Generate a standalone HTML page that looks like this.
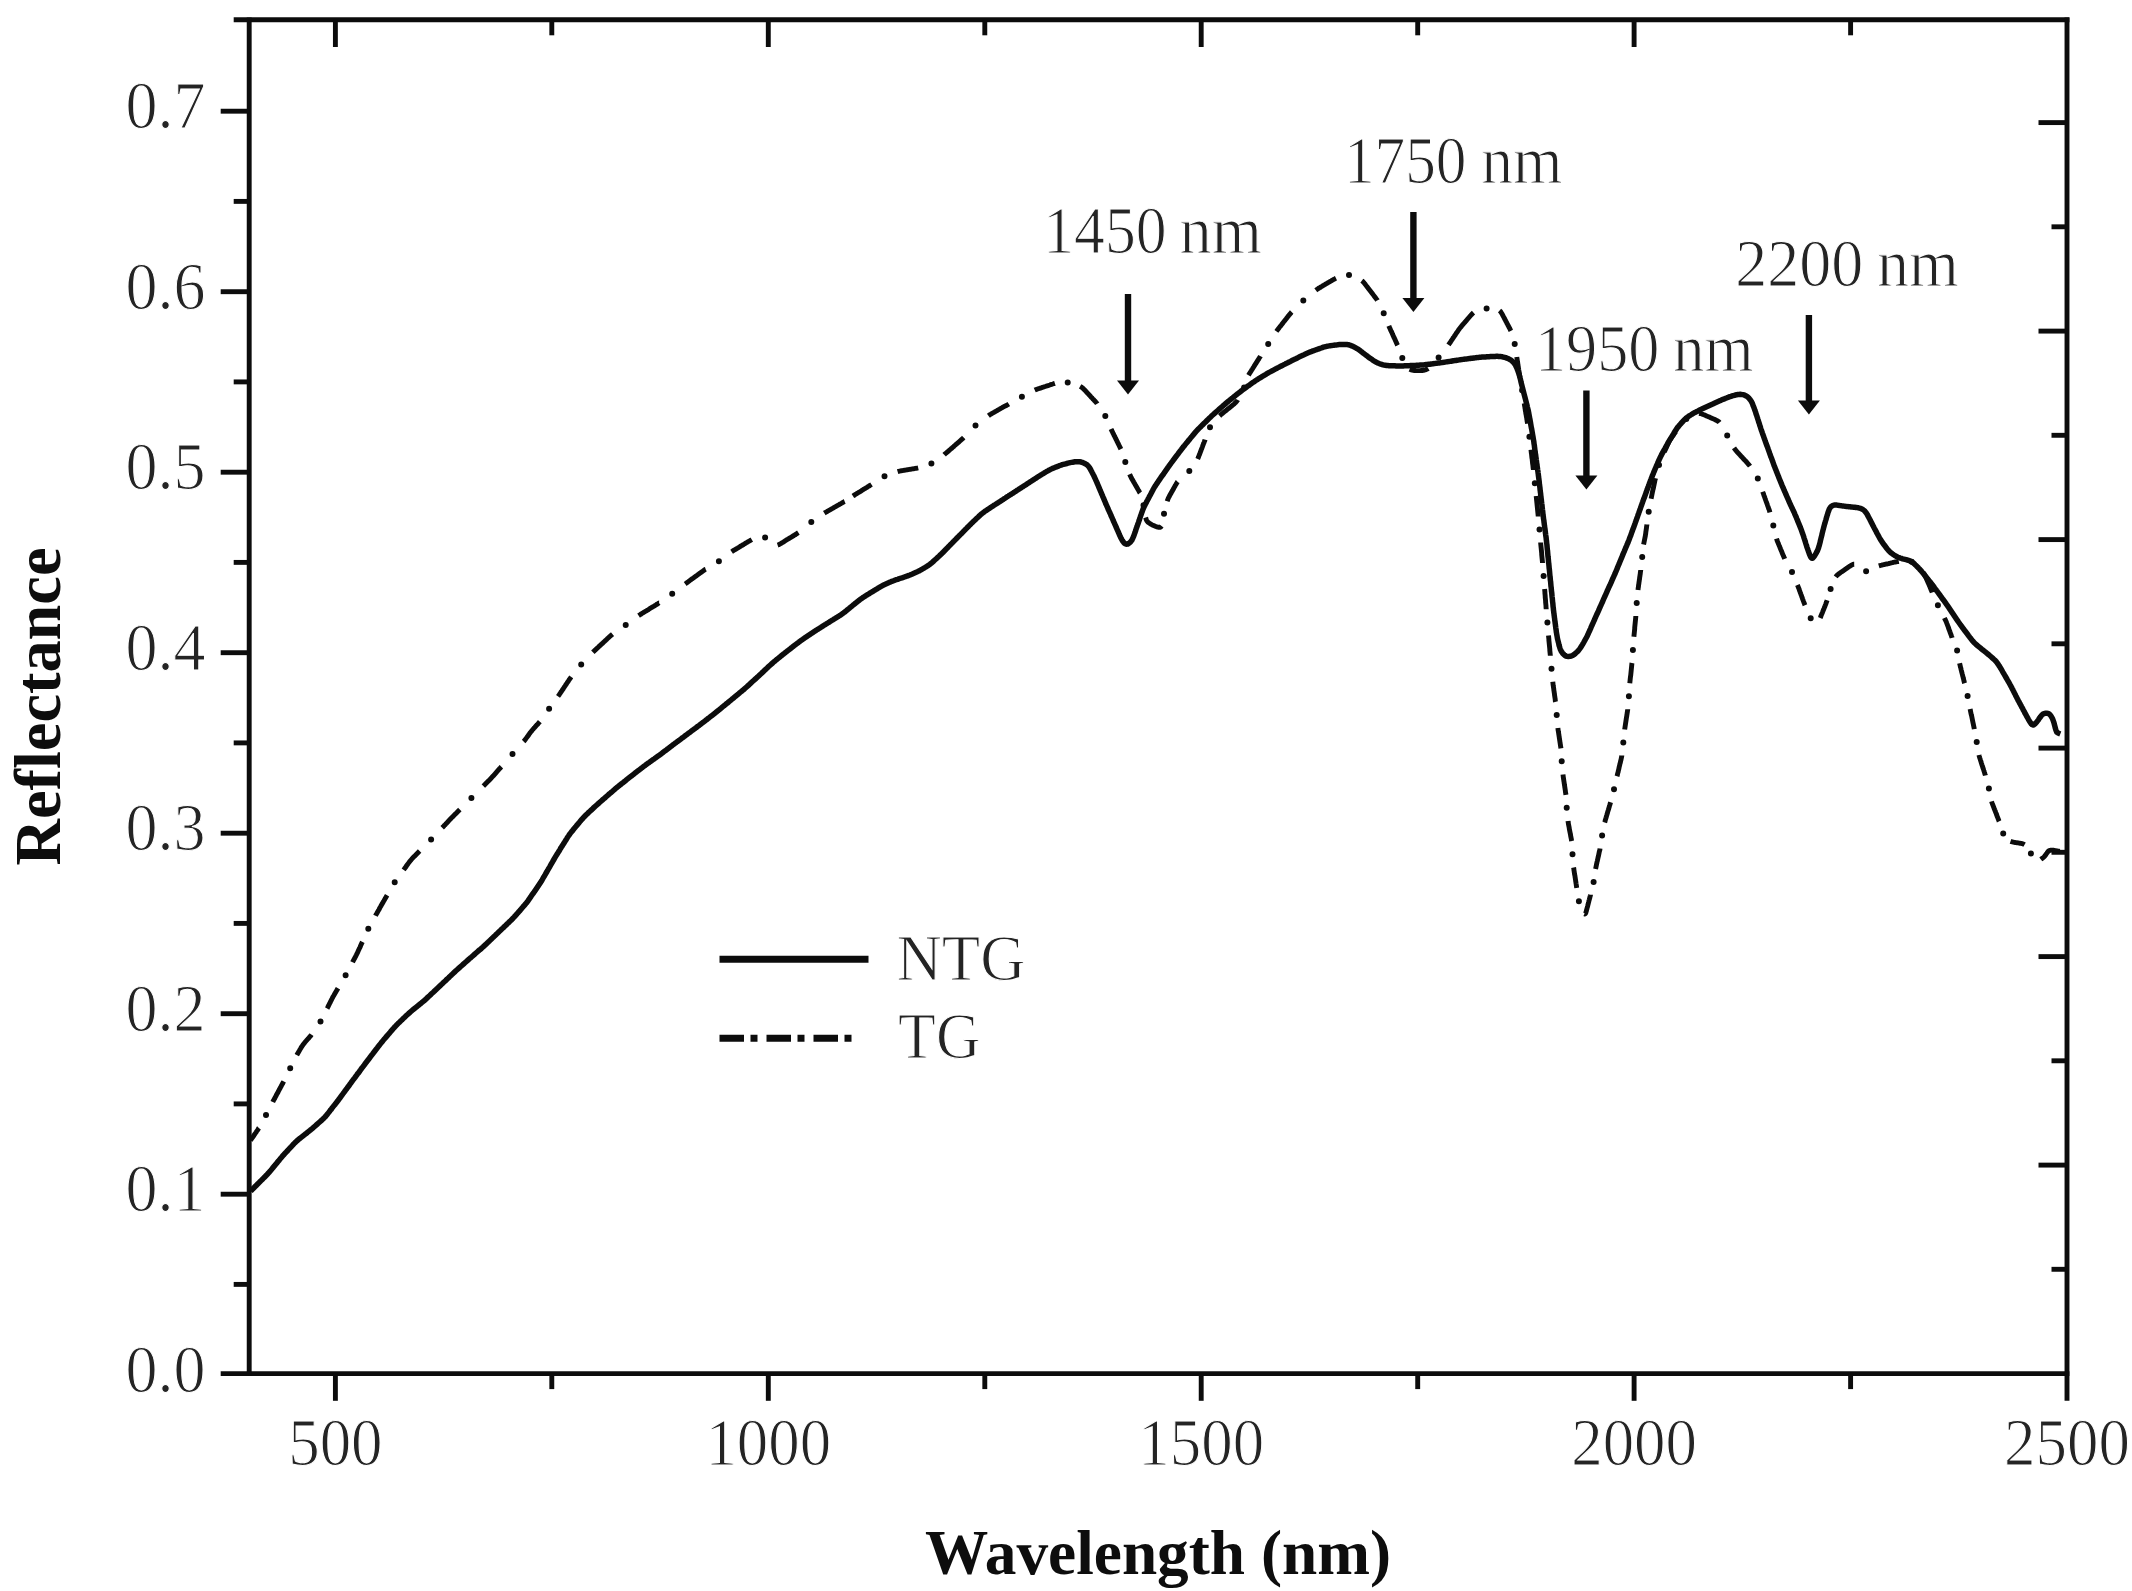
<!DOCTYPE html>
<html lang="en">
<head>
<meta charset="utf-8">
<title>Reflectance vs Wavelength</title>
<style>
html,body{margin:0;padding:0;background:#fff;}
body{width:2132px;height:1591px;overflow:hidden;}
svg{display:block;filter:blur(0.75px);}
text{font-family:"Liberation Serif","Times New Roman",serif;fill:#242424;stroke:#fff;stroke-width:1.1px;}
text.b{fill:#0d0d0d;stroke:none;}
</style>
</head>
<body>
<svg xmlns="http://www.w3.org/2000/svg" width="2132" height="1591" viewBox="0 0 2132 1591">
<rect x="0" y="0" width="2132" height="1591" fill="#ffffff"/>
<g stroke="#0c0c0c" fill="none" stroke-linecap="butt">
<line x1="233.7" y1="19.8" x2="2069.4" y2="19.8" stroke-width="4.9"/>
<line x1="220.7" y1="1373.6" x2="2069.4" y2="1373.6" stroke-width="4.9"/>
<line x1="249.2" y1="17.4" x2="249.2" y2="1376.0" stroke-width="4.9"/>
<line x1="2067.0" y1="17.4" x2="2067.0" y2="1400.8" stroke-width="4.9"/>
<line x1="335.4" y1="1373.6" x2="335.4" y2="1400.8" stroke-width="4.9"/>
<line x1="335.4" y1="19.8" x2="335.4" y2="47.0" stroke-width="4.9"/>
<line x1="551.8" y1="1373.6" x2="551.8" y2="1389.1" stroke-width="4.9"/>
<line x1="551.8" y1="19.8" x2="551.8" y2="35.3" stroke-width="4.9"/>
<line x1="768.3" y1="1373.6" x2="768.3" y2="1400.8" stroke-width="4.9"/>
<line x1="768.3" y1="19.8" x2="768.3" y2="47.0" stroke-width="4.9"/>
<line x1="984.8" y1="1373.6" x2="984.8" y2="1389.1" stroke-width="4.9"/>
<line x1="984.8" y1="19.8" x2="984.8" y2="35.3" stroke-width="4.9"/>
<line x1="1201.2" y1="1373.6" x2="1201.2" y2="1400.8" stroke-width="4.9"/>
<line x1="1201.2" y1="19.8" x2="1201.2" y2="47.0" stroke-width="4.9"/>
<line x1="1417.7" y1="1373.6" x2="1417.7" y2="1389.1" stroke-width="4.9"/>
<line x1="1417.7" y1="19.8" x2="1417.7" y2="35.3" stroke-width="4.9"/>
<line x1="1634.1" y1="1373.6" x2="1634.1" y2="1400.8" stroke-width="4.9"/>
<line x1="1634.1" y1="19.8" x2="1634.1" y2="47.0" stroke-width="4.9"/>
<line x1="1850.6" y1="1373.6" x2="1850.6" y2="1389.1" stroke-width="4.9"/>
<line x1="1850.6" y1="19.8" x2="1850.6" y2="35.3" stroke-width="4.9"/>
<line x1="233.7" y1="1284.4" x2="249.2" y2="1284.4" stroke-width="4.9"/>
<line x1="220.7" y1="1194.2" x2="249.2" y2="1194.2" stroke-width="4.9"/>
<line x1="233.7" y1="1103.9" x2="249.2" y2="1103.9" stroke-width="4.9"/>
<line x1="220.7" y1="1013.7" x2="249.2" y2="1013.7" stroke-width="4.9"/>
<line x1="233.7" y1="923.4" x2="249.2" y2="923.4" stroke-width="4.9"/>
<line x1="220.7" y1="833.2" x2="249.2" y2="833.2" stroke-width="4.9"/>
<line x1="233.7" y1="742.9" x2="249.2" y2="742.9" stroke-width="4.9"/>
<line x1="220.7" y1="652.7" x2="249.2" y2="652.7" stroke-width="4.9"/>
<line x1="233.7" y1="562.4" x2="249.2" y2="562.4" stroke-width="4.9"/>
<line x1="220.7" y1="472.2" x2="249.2" y2="472.2" stroke-width="4.9"/>
<line x1="233.7" y1="381.9" x2="249.2" y2="381.9" stroke-width="4.9"/>
<line x1="220.7" y1="291.7" x2="249.2" y2="291.7" stroke-width="4.9"/>
<line x1="233.7" y1="201.4" x2="249.2" y2="201.4" stroke-width="4.9"/>
<line x1="220.7" y1="111.2" x2="249.2" y2="111.2" stroke-width="4.9"/>
<line x1="2051.5" y1="1269.3" x2="2067.0" y2="1269.3" stroke-width="4.9"/>
<line x1="2038.5" y1="1165.1" x2="2067.0" y2="1165.1" stroke-width="4.9"/>
<line x1="2051.5" y1="1060.8" x2="2067.0" y2="1060.8" stroke-width="4.9"/>
<line x1="2038.5" y1="956.6" x2="2067.0" y2="956.6" stroke-width="4.9"/>
<line x1="2051.5" y1="852.3" x2="2067.0" y2="852.3" stroke-width="4.9"/>
<line x1="2038.5" y1="748.1" x2="2067.0" y2="748.1" stroke-width="4.9"/>
<line x1="2051.5" y1="643.8" x2="2067.0" y2="643.8" stroke-width="4.9"/>
<line x1="2038.5" y1="539.6" x2="2067.0" y2="539.6" stroke-width="4.9"/>
<line x1="2051.5" y1="435.3" x2="2067.0" y2="435.3" stroke-width="4.9"/>
<line x1="2038.5" y1="331.1" x2="2067.0" y2="331.1" stroke-width="4.9"/>
<line x1="2051.5" y1="226.8" x2="2067.0" y2="226.8" stroke-width="4.9"/>
<line x1="2038.5" y1="122.6" x2="2067.0" y2="122.6" stroke-width="4.9"/>
</g>
<g stroke="#0c0c0c" fill="none" stroke-linejoin="round">
<path d="M250.6,1191.1 L251.5,1190.2 L252.4,1189.3 L253.2,1188.5 L254.0,1187.7 L254.9,1186.8 L255.7,1186.0 L256.5,1185.2 L257.4,1184.3 L258.2,1183.5 L259.1,1182.6 L259.9,1181.8 L260.8,1180.9 L261.6,1180.1 L262.5,1179.2 L263.3,1178.4 L264.2,1177.5 L265.0,1176.7 L265.9,1175.8 L266.7,1175.0 L267.5,1174.1 L268.3,1173.2 L269.1,1172.3 L269.9,1171.4 L270.7,1170.5 L271.4,1169.6 L272.2,1168.6 L273.0,1167.7 L273.7,1166.8 L274.5,1165.8 L275.3,1164.9 L276.0,1164.0 L276.8,1163.1 L277.5,1162.1 L278.3,1161.2 L279.1,1160.3 L279.8,1159.4 L280.6,1158.4 L281.4,1157.5 L282.1,1156.6 L282.9,1155.7 L283.7,1154.8 L284.5,1153.9 L285.3,1153.0 L286.2,1152.1 L287.0,1151.3 L287.8,1150.4 L288.6,1149.5 L289.4,1148.6 L290.2,1147.8 L291.1,1146.9 L291.9,1146.0 L292.7,1145.1 L293.5,1144.2 L294.3,1143.4 L295.2,1142.5 L296.0,1141.7 L296.9,1140.9 L297.8,1140.1 L298.7,1139.3 L299.7,1138.5 L300.6,1137.8 L301.5,1137.1 L302.5,1136.3 L303.4,1135.6 L304.4,1134.8 L305.3,1134.1 L306.3,1133.4 L307.2,1132.6 L308.1,1131.9 L309.1,1131.1 L310.0,1130.4 L310.9,1129.6 L311.9,1128.8 L312.8,1128.1 L313.7,1127.3 L314.6,1126.5 L315.5,1125.7 L316.4,1124.9 L317.3,1124.1 L318.2,1123.3 L319.1,1122.5 L320.0,1121.7 L320.9,1120.9 L321.8,1120.1 L322.7,1119.3 L323.5,1118.5 L324.4,1117.6 L325.2,1116.8 L326.0,1115.9 L326.7,1115.0 L327.5,1114.0 L328.2,1113.1 L329.0,1112.1 L329.7,1111.2 L330.4,1110.2 L331.2,1109.3 L331.9,1108.3 L332.6,1107.4 L333.4,1106.4 L334.1,1105.5 L334.9,1104.6 L335.6,1103.6 L336.3,1102.7 L337.1,1101.7 L337.8,1100.8 L338.5,1099.8 L339.2,1098.8 L340.0,1097.9 L340.7,1096.9 L341.4,1095.9 L342.1,1095.0 L342.8,1094.0 L343.5,1093.0 L344.2,1092.1 L344.9,1091.1 L345.6,1090.1 L346.3,1089.2 L347.1,1088.2 L347.8,1087.2 L348.5,1086.3 L349.2,1085.3 L349.9,1084.3 L350.6,1083.4 L351.3,1082.4 L352.0,1081.4 L352.7,1080.5 L353.4,1079.5 L354.2,1078.5 L354.9,1077.6 L355.6,1076.6 L356.3,1075.6 L357.0,1074.7 L357.7,1073.7 L358.5,1072.8 L359.2,1071.8 L359.9,1070.8 L360.6,1069.9 L361.3,1068.9 L362.0,1067.9 L362.8,1067.0 L363.5,1066.0 L364.2,1065.1 L364.9,1064.1 L365.6,1063.1 L366.4,1062.2 L367.1,1061.2 L367.8,1060.3 L368.5,1059.3 L369.3,1058.4 L370.0,1057.4 L370.7,1056.4 L371.4,1055.5 L372.2,1054.5 L372.9,1053.6 L373.6,1052.6 L374.4,1051.7 L375.1,1050.7 L375.8,1049.8 L376.6,1048.8 L377.3,1047.9 L378.0,1046.9 L378.7,1046.0 L379.5,1045.0 L380.2,1044.1 L381.0,1043.1 L381.7,1042.2 L382.5,1041.3 L383.2,1040.4 L384.0,1039.4 L384.8,1038.5 L385.6,1037.6 L386.4,1036.7 L387.1,1035.8 L387.9,1034.9 L388.7,1034.0 L389.5,1033.1 L390.3,1032.1 L391.0,1031.2 L391.8,1030.3 L392.6,1029.4 L393.4,1028.5 L394.2,1027.6 L395.0,1026.7 L395.8,1025.9 L396.6,1025.0 L397.5,1024.1 L398.3,1023.3 L399.2,1022.5 L400.1,1021.6 L400.9,1020.8 L401.8,1020.0 L402.7,1019.1 L403.5,1018.3 L404.4,1017.5 L405.3,1016.6 L406.1,1015.8 L407.0,1015.0 L407.9,1014.2 L408.8,1013.4 L409.7,1012.6 L410.6,1011.8 L411.5,1011.0 L412.4,1010.2 L413.3,1009.5 L414.3,1008.7 L415.2,1008.0 L416.1,1007.2 L417.1,1006.5 L418.0,1005.7 L418.9,1005.0 L419.9,1004.2 L420.8,1003.5 L421.7,1002.7 L422.7,1001.9 L423.6,1001.2 L424.5,1000.4 L425.4,999.6 L426.3,998.8 L427.1,997.9 L428.0,997.1 L428.9,996.3 L429.8,995.5 L430.6,994.7 L431.5,993.8 L432.4,993.0 L433.3,992.2 L434.1,991.4 L435.0,990.6 L435.9,989.7 L436.8,988.9 L437.6,988.1 L438.5,987.3 L439.4,986.4 L440.3,985.6 L441.1,984.8 L442.0,984.0 L442.9,983.1 L443.7,982.3 L444.6,981.5 L445.5,980.7 L446.4,979.8 L447.2,979.0 L448.1,978.2 L449.0,977.4 L449.8,976.5 L450.7,975.7 L451.6,974.9 L452.4,974.1 L453.3,973.2 L454.2,972.4 L455.1,971.6 L455.9,970.8 L456.8,970.0 L457.7,969.2 L458.6,968.4 L459.5,967.6 L460.4,966.8 L461.3,966.0 L462.2,965.2 L463.1,964.4 L464.0,963.6 L464.9,962.8 L465.8,962.0 L466.7,961.2 L467.6,960.4 L468.5,959.6 L469.4,958.8 L470.3,958.0 L471.2,957.3 L472.1,956.5 L473.0,955.7 L473.9,954.9 L474.8,954.1 L475.7,953.3 L476.6,952.5 L477.5,951.7 L478.4,950.9 L479.3,950.1 L480.3,949.4 L481.2,948.6 L482.1,947.8 L483.0,947.0 L483.8,946.2 L484.7,945.4 L485.6,944.6 L486.5,943.7 L487.4,942.9 L488.2,942.1 L489.1,941.3 L490.0,940.4 L490.8,939.6 L491.7,938.8 L492.6,937.9 L493.4,937.1 L494.3,936.3 L495.2,935.5 L496.0,934.6 L496.9,933.8 L497.8,933.0 L498.6,932.1 L499.5,931.3 L500.4,930.5 L501.2,929.6 L502.1,928.8 L503.0,928.0 L503.8,927.2 L504.7,926.3 L505.6,925.5 L506.4,924.7 L507.3,923.8 L508.2,923.0 L509.0,922.2 L509.9,921.3 L510.8,920.5 L511.6,919.7 L512.5,918.8 L513.3,917.9 L514.1,917.1 L514.9,916.2 L515.7,915.3 L516.5,914.4 L517.3,913.5 L518.1,912.6 L518.9,911.7 L519.7,910.8 L520.5,909.9 L521.2,909.0 L522.0,908.1 L522.8,907.1 L523.6,906.2 L524.4,905.3 L525.2,904.4 L525.9,903.5 L526.7,902.6 L527.4,901.6 L528.1,900.7 L528.8,899.7 L529.5,898.7 L530.2,897.7 L530.9,896.7 L531.5,895.7 L532.2,894.7 L532.9,893.7 L533.6,892.8 L534.2,891.8 L534.9,890.8 L535.6,889.8 L536.3,888.8 L536.9,887.8 L537.6,886.8 L538.3,885.8 L538.9,884.8 L539.6,883.8 L540.3,882.8 L540.9,881.8 L541.6,880.8 L542.2,879.8 L542.8,878.7 L543.4,877.7 L544.0,876.7 L544.6,875.6 L545.2,874.6 L545.8,873.5 L546.4,872.5 L547.0,871.5 L547.6,870.4 L548.2,869.4 L548.8,868.3 L549.4,867.3 L550.0,866.3 L550.6,865.2 L551.2,864.2 L551.8,863.1 L552.4,862.1 L553.0,861.0 L553.6,860.0 L554.2,859.0 L554.8,857.9 L555.4,856.9 L556.0,855.9 L556.6,854.9 L557.3,853.8 L557.9,852.8 L558.5,851.8 L559.2,850.8 L559.8,849.8 L560.4,848.7 L561.1,847.7 L561.7,846.7 L562.4,845.7 L563.0,844.7 L563.6,843.6 L564.3,842.6 L564.9,841.6 L565.5,840.6 L566.2,839.6 L566.8,838.6 L567.4,837.5 L568.1,836.5 L568.8,835.5 L569.4,834.6 L570.1,833.6 L570.9,832.6 L571.6,831.7 L572.4,830.8 L573.1,829.8 L573.9,828.9 L574.6,828.0 L575.4,827.1 L576.2,826.1 L577.0,825.2 L577.7,824.3 L578.5,823.4 L579.3,822.5 L580.0,821.5 L580.8,820.6 L581.6,819.7 L582.4,818.8 L583.2,817.9 L584.0,817.0 L584.8,816.2 L585.7,815.3 L586.5,814.5 L587.4,813.7 L588.3,812.8 L589.1,812.0 L590.0,811.2 L590.9,810.4 L591.8,809.6 L592.7,808.8 L593.5,807.9 L594.4,807.1 L595.3,806.3 L596.2,805.5 L597.1,804.7 L598.0,803.9 L598.9,803.1 L599.8,802.3 L600.7,801.5 L601.6,800.7 L602.5,799.9 L603.4,799.1 L604.3,798.4 L605.2,797.6 L606.1,796.8 L607.0,796.0 L607.9,795.2 L608.8,794.4 L609.7,793.6 L610.6,792.9 L611.5,792.1 L612.5,791.3 L613.4,790.5 L614.3,789.7 L615.2,788.9 L616.1,788.2 L617.0,787.4 L618.0,786.6 L618.9,785.9 L619.8,785.1 L620.8,784.4 L621.7,783.6 L622.6,782.9 L623.6,782.2 L624.5,781.4 L625.5,780.7 L626.4,779.9 L627.3,779.2 L628.3,778.4 L629.2,777.7 L630.2,776.9 L631.1,776.2 L632.1,775.5 L633.0,774.7 L634.0,774.0 L634.9,773.2 L635.8,772.5 L636.8,771.8 L637.7,771.0 L638.7,770.3 L639.6,769.6 L640.6,768.8 L641.5,768.1 L642.5,767.4 L643.4,766.7 L644.4,765.9 L645.4,765.2 L646.3,764.5 L647.3,763.8 L648.3,763.1 L649.3,762.4 L650.2,761.7 L651.2,761.0 L652.2,760.3 L653.2,759.6 L654.2,758.9 L655.1,758.2 L656.1,757.5 L657.1,756.8 L658.1,756.1 L659.0,755.4 L660.0,754.7 L661.0,754.0 L661.9,753.3 L662.9,752.6 L663.8,751.8 L664.8,751.1 L665.7,750.4 L666.7,749.7 L667.6,748.9 L668.6,748.2 L669.6,747.5 L670.5,746.7 L671.5,746.0 L672.4,745.3 L673.4,744.6 L674.3,743.9 L675.3,743.1 L676.3,742.4 L677.2,741.7 L678.2,741.0 L679.2,740.3 L680.1,739.6 L681.1,738.8 L682.0,738.1 L683.0,737.4 L684.0,736.7 L684.9,736.0 L685.9,735.2 L686.9,734.5 L687.8,733.8 L688.8,733.1 L689.7,732.4 L690.7,731.7 L691.7,730.9 L692.6,730.2 L693.6,729.5 L694.6,728.8 L695.5,728.1 L696.5,727.4 L697.4,726.6 L698.4,725.9 L699.4,725.2 L700.3,724.5 L701.3,723.8 L702.2,723.0 L703.2,722.3 L704.1,721.6 L705.1,720.8 L706.0,720.1 L707.0,719.4 L707.9,718.6 L708.9,717.9 L709.8,717.2 L710.8,716.4 L711.7,715.7 L712.7,715.0 L713.6,714.2 L714.6,713.5 L715.5,712.7 L716.4,712.0 L717.4,711.2 L718.3,710.5 L719.2,709.7 L720.2,709.0 L721.1,708.2 L722.0,707.4 L722.9,706.7 L723.9,705.9 L724.8,705.1 L725.7,704.4 L726.6,703.6 L727.6,702.9 L728.5,702.1 L729.4,701.3 L730.3,700.6 L731.3,699.8 L732.2,699.0 L733.1,698.3 L734.1,697.5 L735.0,696.7 L735.9,696.0 L736.8,695.2 L737.8,694.5 L738.7,693.7 L739.6,692.9 L740.5,692.2 L741.5,691.4 L742.4,690.6 L743.3,689.9 L744.2,689.1 L745.1,688.3 L746.0,687.5 L746.9,686.7 L747.8,685.9 L748.7,685.1 L749.6,684.3 L750.4,683.5 L751.3,682.6 L752.2,681.8 L753.1,681.0 L754.0,680.2 L754.9,679.4 L755.8,678.6 L756.7,677.8 L757.5,677.0 L758.4,676.2 L759.3,675.4 L760.2,674.5 L761.1,673.7 L761.9,672.9 L762.8,672.1 L763.7,671.2 L764.5,670.4 L765.4,669.6 L766.3,668.8 L767.2,668.0 L768.0,667.1 L768.9,666.3 L769.8,665.5 L770.7,664.7 L771.6,663.9 L772.5,663.1 L773.4,662.3 L774.3,661.5 L775.2,660.8 L776.1,660.0 L777.1,659.3 L778.0,658.5 L778.9,657.7 L779.9,657.0 L780.8,656.2 L781.7,655.5 L782.7,654.7 L783.6,654.0 L784.5,653.2 L785.5,652.5 L786.4,651.7 L787.4,651.0 L788.3,650.2 L789.3,649.5 L790.2,648.8 L791.2,648.0 L792.1,647.3 L793.1,646.6 L794.0,645.8 L795.0,645.1 L795.9,644.4 L796.9,643.6 L797.8,642.9 L798.8,642.2 L799.7,641.5 L800.7,640.8 L801.7,640.1 L802.7,639.4 L803.6,638.7 L804.6,638.0 L805.6,637.3 L806.6,636.7 L807.6,636.0 L808.6,635.3 L809.6,634.7 L810.6,634.0 L811.6,633.3 L812.6,632.7 L813.6,632.0 L814.6,631.3 L815.6,630.7 L816.6,630.0 L817.6,629.4 L818.6,628.8 L819.7,628.1 L820.7,627.5 L821.7,626.8 L822.7,626.2 L823.7,625.5 L824.7,624.9 L825.7,624.3 L826.8,623.6 L827.8,623.0 L828.8,622.4 L829.8,621.7 L830.8,621.1 L831.8,620.4 L832.9,619.8 L833.9,619.2 L834.9,618.6 L835.9,617.9 L836.9,617.3 L838.0,616.7 L839.0,616.0 L840.0,615.4 L841.0,614.7 L842.0,614.0 L843.0,613.3 L843.9,612.6 L844.9,611.9 L845.8,611.1 L846.7,610.4 L847.6,609.6 L848.6,608.8 L849.5,608.1 L850.4,607.3 L851.3,606.6 L852.3,605.8 L853.2,605.0 L854.1,604.3 L855.1,603.5 L856.0,602.8 L857.0,602.1 L857.9,601.3 L858.9,600.6 L859.8,599.8 L860.8,599.1 L861.7,598.4 L862.7,597.7 L863.7,597.1 L864.7,596.4 L865.7,595.8 L866.7,595.1 L867.8,594.5 L868.8,593.9 L869.8,593.2 L870.8,592.6 L871.8,592.0 L872.9,591.4 L873.9,590.7 L874.9,590.1 L876.0,589.5 L877.0,588.9 L878.0,588.2 L879.0,587.6 L880.1,587.0 L881.1,586.4 L882.1,585.8 L883.2,585.2 L884.2,584.7 L885.3,584.2 L886.4,583.7 L887.5,583.2 L888.6,582.7 L889.7,582.2 L890.8,581.8 L891.9,581.3 L893.1,580.9 L894.2,580.5 L895.3,580.0 L896.4,579.6 L897.6,579.3 L898.7,578.9 L899.8,578.5 L901.0,578.1 L902.1,577.8 L903.3,577.4 L904.4,577.0 L905.5,576.6 L906.7,576.2 L907.8,575.8 L908.9,575.4 L910.0,575.0 L911.1,574.5 L912.3,574.1 L913.4,573.6 L914.5,573.1 L915.6,572.6 L916.7,572.1 L917.7,571.6 L918.8,571.1 L919.9,570.5 L920.9,569.9 L921.9,569.3 L923.0,568.7 L924.0,568.1 L925.0,567.5 L926.0,566.9 L927.1,566.2 L928.1,565.6 L929.0,564.9 L930.0,564.2 L930.9,563.4 L931.9,562.7 L932.8,561.9 L933.7,561.1 L934.5,560.3 L935.4,559.5 L936.3,558.7 L937.2,557.9 L938.1,557.0 L939.0,556.2 L939.8,555.4 L940.7,554.6 L941.6,553.7 L942.4,552.9 L943.3,552.1 L944.1,551.2 L945.0,550.3 L945.8,549.5 L946.6,548.6 L947.5,547.8 L948.3,546.9 L949.1,546.0 L950.0,545.2 L950.8,544.3 L951.7,543.5 L952.5,542.6 L953.3,541.8 L954.2,540.9 L955.0,540.0 L955.9,539.2 L956.7,538.3 L957.5,537.5 L958.4,536.6 L959.2,535.8 L960.1,534.9 L960.9,534.1 L961.8,533.2 L962.6,532.4 L963.4,531.5 L964.3,530.6 L965.1,529.8 L966.0,528.9 L966.8,528.1 L967.6,527.2 L968.5,526.4 L969.3,525.5 L970.2,524.7 L971.0,523.8 L971.9,523.0 L972.8,522.1 L973.6,521.3 L974.5,520.5 L975.4,519.7 L976.2,518.8 L977.1,518.0 L978.0,517.2 L978.8,516.4 L979.7,515.6 L980.6,514.7 L981.5,514.0 L982.4,513.2 L983.4,512.5 L984.3,511.8 L985.3,511.1 L986.3,510.4 L987.3,509.7 L988.3,509.1 L989.3,508.4 L990.3,507.7 L991.3,507.1 L992.3,506.4 L993.3,505.8 L994.3,505.1 L995.3,504.5 L996.4,503.8 L997.4,503.2 L998.4,502.5 L999.4,501.9 L1000.4,501.2 L1001.4,500.6 L1002.4,499.9 L1003.4,499.3 L1004.4,498.6 L1005.4,498.0 L1006.4,497.3 L1007.4,496.6 L1008.4,496.0 L1009.4,495.3 L1010.5,494.7 L1011.5,494.0 L1012.5,493.4 L1013.5,492.7 L1014.5,492.1 L1015.5,491.4 L1016.5,490.8 L1017.5,490.1 L1018.5,489.5 L1019.5,488.8 L1020.5,488.2 L1021.5,487.5 L1022.5,486.9 L1023.5,486.2 L1024.6,485.6 L1025.6,484.9 L1026.6,484.3 L1027.6,483.6 L1028.6,482.9 L1029.6,482.3 L1030.6,481.6 L1031.6,481.0 L1032.6,480.3 L1033.6,479.7 L1034.6,479.0 L1035.6,478.4 L1036.6,477.7 L1037.6,477.0 L1038.6,476.4 L1039.7,475.8 L1040.7,475.1 L1041.7,474.5 L1042.7,473.9 L1043.8,473.3 L1044.8,472.6 L1045.8,472.0 L1046.8,471.4 L1047.9,470.8 L1048.9,470.2 L1050.0,469.7 L1051.1,469.1 L1052.1,468.6 L1053.2,468.2 L1054.3,467.7 L1055.5,467.2 L1056.6,466.8 L1057.7,466.4 L1058.8,465.9 L1059.9,465.5 L1061.1,465.1 L1062.2,464.7 L1063.3,464.4 L1064.5,464.1 L1065.7,463.8 L1066.8,463.5 L1068.0,463.2 L1069.1,462.9 L1070.3,462.6 L1071.5,462.4 L1072.7,462.2 L1073.8,462.0 L1075.0,461.8 L1076.2,461.7 L1077.4,461.7 L1078.6,461.7 L1079.7,461.8 L1080.9,462.0 L1082.0,462.3 L1083.1,462.7 L1084.2,463.2 L1085.2,463.7 L1086.2,464.3 L1087.1,464.9 L1088.0,465.7 L1088.7,466.6 L1089.4,467.5 L1090.0,468.5 L1090.6,469.5 L1091.1,470.6 L1091.7,471.6 L1092.2,472.7 L1092.8,473.8 L1093.3,474.8 L1093.9,475.9 L1094.4,477.0 L1094.9,478.1 L1095.4,479.2 L1095.9,480.3 L1096.4,481.4 L1096.9,482.5 L1097.3,483.6 L1097.8,484.7 L1098.3,485.8 L1098.7,486.9 L1099.2,488.0 L1099.7,489.1 L1100.1,490.2 L1100.6,491.3 L1101.1,492.4 L1101.5,493.5 L1102.0,494.6 L1102.5,495.7 L1102.9,496.8 L1103.4,497.9 L1103.9,499.0 L1104.3,500.1 L1104.8,501.2 L1105.3,502.4 L1105.7,503.5 L1106.2,504.6 L1106.7,505.7 L1107.2,506.8 L1107.7,507.9 L1108.1,509.0 L1108.6,510.1 L1109.1,511.2 L1109.6,512.3 L1110.1,513.3 L1110.6,514.4 L1111.0,515.5 L1111.5,516.6 L1112.0,517.7 L1112.5,518.8 L1113.0,519.9 L1113.4,521.0 L1113.9,522.1 L1114.4,523.2 L1114.9,524.3 L1115.4,525.4 L1115.9,526.5 L1116.3,527.6 L1116.8,528.7 L1117.3,529.8 L1117.8,530.9 L1118.3,532.0 L1118.8,533.1 L1119.2,534.2 L1119.7,535.3 L1120.2,536.4 L1120.7,537.5 L1121.3,538.6 L1121.8,539.6 L1122.4,540.6 L1123.1,541.6 L1123.8,542.5 L1124.5,543.2 L1125.3,543.8 L1126.1,544.1 L1126.9,544.2 L1127.7,544.0 L1128.6,543.5 L1129.4,542.9 L1130.2,542.2 L1131.0,541.3 L1131.7,540.4 L1132.2,539.4 L1132.8,538.3 L1133.2,537.3 L1133.7,536.1 L1134.1,535.0 L1134.5,533.9 L1134.9,532.8 L1135.3,531.6 L1135.7,530.5 L1136.0,529.4 L1136.4,528.2 L1136.8,527.1 L1137.2,526.0 L1137.6,524.8 L1138.0,523.7 L1138.4,522.6 L1138.8,521.4 L1139.2,520.3 L1139.6,519.1 L1139.9,518.0 L1140.3,516.9 L1140.7,515.7 L1141.1,514.6 L1141.5,513.5 L1141.9,512.3 L1142.3,511.2 L1142.7,510.1 L1143.1,509.0 L1143.6,507.9 L1144.1,506.8 L1144.6,505.7 L1145.2,504.6 L1145.7,503.6 L1146.3,502.5 L1146.8,501.4 L1147.4,500.4 L1148.0,499.3 L1148.5,498.3 L1149.1,497.2 L1149.6,496.1 L1150.2,495.1 L1150.8,494.0 L1151.3,493.0 L1151.9,491.9 L1152.5,490.8 L1153.0,489.8 L1153.6,488.7 L1154.2,487.7 L1154.8,486.7 L1155.5,485.7 L1156.1,484.7 L1156.8,483.7 L1157.5,482.7 L1158.1,481.7 L1158.8,480.7 L1159.5,479.7 L1160.2,478.7 L1160.8,477.7 L1161.5,476.7 L1162.2,475.7 L1162.9,474.8 L1163.6,473.8 L1164.2,472.8 L1164.9,471.8 L1165.6,470.8 L1166.3,469.8 L1167.0,468.8 L1167.7,467.8 L1168.4,466.9 L1169.1,465.9 L1169.8,464.9 L1170.5,464.0 L1171.2,463.0 L1171.9,462.0 L1172.6,461.1 L1173.3,460.1 L1174.1,459.2 L1174.8,458.2 L1175.5,457.2 L1176.2,456.3 L1177.0,455.3 L1177.7,454.4 L1178.4,453.4 L1179.1,452.4 L1179.8,451.5 L1180.6,450.5 L1181.3,449.6 L1182.0,448.6 L1182.8,447.7 L1183.5,446.7 L1184.3,445.8 L1185.0,444.9 L1185.8,443.9 L1186.5,443.0 L1187.3,442.1 L1188.1,441.2 L1188.8,440.2 L1189.6,439.3 L1190.3,438.4 L1191.1,437.4 L1191.9,436.5 L1192.6,435.6 L1193.4,434.7 L1194.2,433.7 L1194.9,432.8 L1195.7,431.9 L1196.5,431.0 L1197.3,430.1 L1198.1,429.3 L1199.0,428.4 L1199.8,427.6 L1200.7,426.7 L1201.5,425.9 L1202.4,425.0 L1203.2,424.2 L1204.1,423.3 L1205.0,422.5 L1205.8,421.7 L1206.7,420.8 L1207.5,420.0 L1208.4,419.1 L1209.2,418.3 L1210.1,417.5 L1211.0,416.6 L1211.8,415.8 L1212.7,415.0 L1213.6,414.2 L1214.5,413.4 L1215.4,412.6 L1216.3,411.8 L1217.2,411.0 L1218.1,410.2 L1219.0,409.4 L1219.9,408.6 L1220.8,407.8 L1221.7,407.0 L1222.6,406.2 L1223.5,405.4 L1224.4,404.7 L1225.3,403.9 L1226.2,403.1 L1227.1,402.3 L1228.1,401.6 L1229.0,400.8 L1229.9,400.0 L1230.8,399.3 L1231.8,398.5 L1232.7,397.8 L1233.6,397.0 L1234.6,396.3 L1235.5,395.5 L1236.4,394.7 L1237.4,394.0 L1238.3,393.2 L1239.3,392.5 L1240.2,391.8 L1241.2,391.0 L1242.1,390.3 L1243.1,389.6 L1244.0,388.9 L1245.0,388.2 L1246.0,387.5 L1246.9,386.8 L1247.9,386.1 L1248.9,385.4 L1249.9,384.7 L1250.8,384.0 L1251.8,383.3 L1252.8,382.6 L1253.8,381.9 L1254.8,381.2 L1255.8,380.5 L1256.8,379.9 L1257.8,379.3 L1258.8,378.6 L1259.8,378.0 L1260.9,377.4 L1261.9,376.7 L1262.9,376.1 L1263.9,375.5 L1265.0,374.9 L1266.0,374.3 L1267.0,373.6 L1268.1,373.0 L1269.1,372.4 L1270.1,371.9 L1271.2,371.3 L1272.3,370.7 L1273.3,370.2 L1274.4,369.6 L1275.4,369.0 L1276.5,368.5 L1277.6,367.9 L1278.6,367.4 L1279.7,366.8 L1280.8,366.3 L1281.8,365.7 L1282.9,365.2 L1284.0,364.6 L1285.0,364.1 L1286.1,363.5 L1287.2,363.0 L1288.2,362.5 L1289.3,361.9 L1290.4,361.4 L1291.5,360.8 L1292.5,360.3 L1293.6,359.8 L1294.7,359.2 L1295.8,358.7 L1296.8,358.2 L1297.9,357.7 L1299.0,357.1 L1300.1,356.6 L1301.2,356.1 L1302.3,355.6 L1303.4,355.1 L1304.4,354.6 L1305.5,354.1 L1306.6,353.6 L1307.7,353.1 L1308.8,352.6 L1309.9,352.1 L1311.0,351.7 L1312.1,351.2 L1313.2,350.8 L1314.4,350.4 L1315.5,350.0 L1316.6,349.6 L1317.8,349.2 L1318.9,348.8 L1320.0,348.4 L1321.2,348.0 L1322.3,347.6 L1323.4,347.2 L1324.6,346.9 L1325.7,346.6 L1326.9,346.3 L1328.1,346.1 L1329.3,345.9 L1330.4,345.7 L1331.6,345.6 L1332.8,345.4 L1334.0,345.2 L1335.2,345.1 L1336.4,344.9 L1337.6,344.8 L1338.8,344.6 L1340.0,344.5 L1341.1,344.5 L1342.3,344.4 L1343.5,344.4 L1344.7,344.4 L1345.9,344.5 L1347.1,344.6 L1348.2,344.7 L1349.4,345.0 L1350.5,345.4 L1351.6,345.8 L1352.7,346.3 L1353.7,346.8 L1354.8,347.3 L1355.8,347.9 L1356.9,348.5 L1357.9,349.1 L1358.9,349.8 L1359.9,350.5 L1360.8,351.2 L1361.8,351.9 L1362.7,352.7 L1363.7,353.4 L1364.6,354.1 L1365.6,354.9 L1366.5,355.6 L1367.5,356.3 L1368.4,357.0 L1369.4,357.8 L1370.4,358.4 L1371.4,359.1 L1372.4,359.8 L1373.3,360.5 L1374.3,361.1 L1375.4,361.8 L1376.4,362.3 L1377.5,362.9 L1378.5,363.3 L1379.7,363.8 L1380.8,364.1 L1381.9,364.5 L1383.1,364.8 L1384.2,365.1 L1385.4,365.3 L1386.6,365.5 L1387.8,365.6 L1389.0,365.7 L1390.1,365.8 L1391.3,365.8 L1392.5,365.8 L1393.7,365.8 L1394.9,365.8 L1396.1,365.9 L1397.3,365.9 L1398.5,365.9 L1399.7,365.9 L1400.9,365.9 L1402.1,365.9 L1403.3,365.9 L1404.5,365.8 L1405.7,365.8 L1406.9,365.8 L1408.1,365.7 L1409.3,365.7 L1410.5,365.6 L1411.7,365.6 L1412.9,365.5 L1414.1,365.4 L1415.3,365.4 L1416.5,365.3 L1417.7,365.2 L1418.9,365.2 L1420.1,365.1 L1421.3,365.0 L1422.5,365.0 L1423.7,364.9 L1424.9,364.7 L1426.1,364.6 L1427.3,364.5 L1428.5,364.3 L1429.7,364.2 L1430.9,364.0 L1432.0,363.9 L1433.2,363.7 L1434.4,363.6 L1435.6,363.4 L1436.8,363.2 L1438.0,363.1 L1439.2,362.9 L1440.4,362.8 L1441.6,362.6 L1442.7,362.4 L1443.9,362.3 L1445.1,362.1 L1446.3,361.9 L1447.5,361.7 L1448.7,361.6 L1449.9,361.4 L1451.1,361.2 L1452.2,361.0 L1453.4,360.8 L1454.6,360.6 L1455.8,360.5 L1457.0,360.3 L1458.2,360.1 L1459.4,359.9 L1460.5,359.7 L1461.7,359.6 L1462.9,359.4 L1464.1,359.2 L1465.3,359.1 L1466.5,358.9 L1467.7,358.8 L1468.9,358.6 L1470.1,358.5 L1471.3,358.3 L1472.4,358.2 L1473.6,358.0 L1474.8,357.9 L1476.0,357.7 L1477.2,357.6 L1478.4,357.4 L1479.6,357.3 L1480.8,357.2 L1482.0,357.1 L1483.2,357.0 L1484.4,356.9 L1485.6,356.9 L1486.8,356.8 L1488.0,356.7 L1489.2,356.7 L1490.4,356.6 L1491.6,356.5 L1492.8,356.5 L1494.0,356.4 L1495.2,356.4 L1496.3,356.3 L1497.5,356.3 L1498.7,356.4 L1499.9,356.5 L1501.1,356.6 L1502.3,356.8 L1503.4,357.1 L1504.6,357.4 L1505.7,357.7 L1506.8,358.1 L1507.9,358.5 L1509.0,359.0 L1510.0,359.6 L1511.0,360.2 L1511.9,360.9 L1512.8,361.7 L1513.6,362.5 L1514.3,363.4 L1515.0,364.4 L1515.6,365.4 L1516.1,366.5 L1516.6,367.5 L1517.1,368.6 L1517.5,369.8 L1517.9,370.9 L1518.3,372.0 L1518.7,373.1 L1519.0,374.3 L1519.4,375.4 L1519.7,376.6 L1520.0,377.8 L1520.3,378.9 L1520.6,380.1 L1520.9,381.3 L1521.1,382.4 L1521.4,383.6 L1521.7,384.7 L1522.0,385.9 L1522.3,387.1 L1522.6,388.2 L1522.9,389.4 L1523.2,390.6 L1523.5,391.7 L1523.8,392.9 L1524.1,394.1 L1524.4,395.2 L1524.7,396.4 L1525.0,397.5 L1525.3,398.7 L1525.6,399.9 L1525.9,401.0 L1526.2,402.2 L1526.5,403.4 L1526.8,404.5 L1527.1,405.7 L1527.3,406.8 L1527.6,408.0 L1527.9,409.2 L1528.2,410.3 L1528.4,411.5 L1528.7,412.7 L1528.9,413.9 L1529.1,415.0 L1529.3,416.2 L1529.5,417.4 L1529.8,418.6 L1530.0,419.8 L1530.2,421.0 L1530.4,422.1 L1530.6,423.3 L1530.8,424.5 L1531.0,425.7 L1531.2,426.9 L1531.4,428.0 L1531.7,429.2 L1531.9,430.4 L1532.1,431.6 L1532.3,432.8 L1532.5,433.9 L1532.7,435.1 L1532.9,436.3 L1533.1,437.5 L1533.3,438.7 L1533.5,439.9 L1533.7,441.0 L1533.9,442.2 L1534.0,443.4 L1534.2,444.6 L1534.4,445.8 L1534.5,447.0 L1534.7,448.2 L1534.8,449.4 L1535.0,450.6 L1535.2,451.7 L1535.3,452.9 L1535.5,454.1 L1535.7,455.3 L1535.8,456.5 L1536.0,457.7 L1536.2,458.9 L1536.3,460.1 L1536.5,461.3 L1536.6,462.4 L1536.8,463.6 L1537.0,464.8 L1537.1,466.0 L1537.3,467.2 L1537.5,468.4 L1537.6,469.6 L1537.8,470.8 L1538.0,472.0 L1538.1,473.1 L1538.3,474.3 L1538.4,475.5 L1538.6,476.7 L1538.7,477.9 L1538.9,479.1 L1539.0,480.3 L1539.2,481.5 L1539.3,482.7 L1539.4,483.9 L1539.6,485.1 L1539.7,486.2 L1539.9,487.4 L1540.0,488.6 L1540.1,489.8 L1540.3,491.0 L1540.4,492.2 L1540.6,493.4 L1540.7,494.6 L1540.8,495.8 L1541.0,497.0 L1541.1,498.2 L1541.3,499.4 L1541.4,500.5 L1541.5,501.7 L1541.7,502.9 L1541.8,504.1 L1542.0,505.3 L1542.1,506.5 L1542.2,507.7 L1542.4,508.9 L1542.5,510.1 L1542.7,511.3 L1542.8,512.5 L1542.9,513.7 L1543.1,514.8 L1543.2,516.0 L1543.4,517.2 L1543.5,518.4 L1543.7,519.6 L1543.9,520.8 L1544.0,522.0 L1544.2,523.2 L1544.3,524.4 L1544.5,525.6 L1544.6,526.7 L1544.8,527.9 L1545.0,529.1 L1545.1,530.3 L1545.3,531.5 L1545.4,532.7 L1545.6,533.9 L1545.7,535.1 L1545.9,536.3 L1546.1,537.5 L1546.2,538.6 L1546.3,539.8 L1546.5,541.0 L1546.6,542.2 L1546.7,543.4 L1546.9,544.6 L1547.0,545.8 L1547.1,547.0 L1547.2,548.2 L1547.3,549.4 L1547.5,550.6 L1547.6,551.8 L1547.7,553.0 L1547.8,554.2 L1547.9,555.4 L1548.0,556.5 L1548.2,557.7 L1548.3,558.9 L1548.4,560.1 L1548.5,561.3 L1548.6,562.5 L1548.8,563.7 L1548.9,564.9 L1549.0,566.1 L1549.1,567.3 L1549.2,568.5 L1549.4,569.7 L1549.5,570.9 L1549.6,572.1 L1549.7,573.3 L1549.8,574.5 L1549.9,575.7 L1550.1,576.8 L1550.2,578.0 L1550.3,579.2 L1550.4,580.4 L1550.6,581.6 L1550.7,582.8 L1550.8,584.0 L1550.9,585.2 L1551.0,586.4 L1551.2,587.6 L1551.3,588.8 L1551.4,590.0 L1551.5,591.2 L1551.7,592.4 L1551.8,593.6 L1551.9,594.8 L1552.0,595.9 L1552.1,597.1 L1552.3,598.3 L1552.4,599.5 L1552.5,600.7 L1552.6,601.9 L1552.8,603.1 L1552.9,604.3 L1553.0,605.5 L1553.1,606.7 L1553.3,607.9 L1553.4,609.1 L1553.5,610.3 L1553.7,611.5 L1553.8,612.7 L1554.0,613.8 L1554.1,615.0 L1554.3,616.2 L1554.4,617.4 L1554.6,618.6 L1554.7,619.8 L1554.9,621.0 L1555.1,622.2 L1555.2,623.4 L1555.4,624.5 L1555.5,625.7 L1555.7,626.9 L1555.8,628.1 L1556.0,629.3 L1556.2,630.5 L1556.3,631.7 L1556.5,632.9 L1556.7,634.1 L1556.9,635.2 L1557.1,636.4 L1557.3,637.6 L1557.5,638.8 L1557.8,639.9 L1558.1,641.1 L1558.4,642.3 L1558.7,643.4 L1558.9,644.6 L1559.2,645.8 L1559.6,646.9 L1559.9,648.0 L1560.3,649.2 L1560.8,650.2 L1561.3,651.3 L1561.9,652.2 L1562.6,653.2 L1563.4,654.0 L1564.2,654.8 L1565.1,655.5 L1566.0,656.0 L1567.0,656.3 L1568.1,656.4 L1569.2,656.4 L1570.3,656.2 L1571.3,656.0 L1572.4,655.5 L1573.4,655.0 L1574.3,654.4 L1575.2,653.6 L1576.1,652.8 L1577.0,652.0 L1577.8,651.2 L1578.6,650.3 L1579.3,649.4 L1580.1,648.4 L1580.7,647.4 L1581.4,646.4 L1582.0,645.4 L1582.6,644.4 L1583.2,643.3 L1583.8,642.3 L1584.4,641.2 L1585.0,640.2 L1585.5,639.1 L1586.1,638.1 L1586.7,637.0 L1587.2,636.0 L1587.7,634.9 L1588.2,633.8 L1588.7,632.7 L1589.2,631.6 L1589.7,630.5 L1590.2,629.4 L1590.7,628.3 L1591.1,627.2 L1591.6,626.1 L1592.1,625.0 L1592.6,623.9 L1593.1,622.8 L1593.6,621.7 L1594.1,620.6 L1594.6,619.5 L1595.0,618.4 L1595.5,617.3 L1596.0,616.2 L1596.5,615.1 L1597.0,614.1 L1597.5,613.0 L1598.0,611.9 L1598.5,610.8 L1599.0,609.7 L1599.4,608.6 L1599.9,607.5 L1600.4,606.4 L1600.9,605.3 L1601.4,604.2 L1601.9,603.1 L1602.4,602.0 L1602.9,600.9 L1603.3,599.8 L1603.8,598.7 L1604.3,597.6 L1604.8,596.5 L1605.3,595.4 L1605.8,594.3 L1606.3,593.2 L1606.8,592.1 L1607.2,591.0 L1607.7,589.9 L1608.2,588.8 L1608.7,587.7 L1609.2,586.6 L1609.7,585.5 L1610.2,584.5 L1610.7,583.4 L1611.2,582.3 L1611.7,581.2 L1612.1,580.1 L1612.6,579.0 L1613.1,577.9 L1613.6,576.8 L1614.1,575.7 L1614.6,574.6 L1615.1,573.5 L1615.5,572.4 L1616.0,571.3 L1616.5,570.2 L1616.9,569.1 L1617.4,568.0 L1617.8,566.8 L1618.3,565.7 L1618.8,564.6 L1619.2,563.5 L1619.7,562.4 L1620.1,561.3 L1620.6,560.2 L1621.0,559.1 L1621.5,558.0 L1622.0,556.9 L1622.4,555.8 L1622.9,554.6 L1623.3,553.5 L1623.8,552.4 L1624.3,551.3 L1624.7,550.2 L1625.2,549.1 L1625.6,548.0 L1626.1,546.9 L1626.6,545.8 L1627.0,544.7 L1627.5,543.6 L1628.0,542.5 L1628.4,541.4 L1628.9,540.2 L1629.3,539.1 L1629.7,538.0 L1630.1,536.9 L1630.6,535.8 L1631.0,534.6 L1631.4,533.5 L1631.8,532.4 L1632.2,531.3 L1632.6,530.1 L1633.0,529.0 L1633.5,527.9 L1633.9,526.7 L1634.3,525.6 L1634.7,524.5 L1635.1,523.4 L1635.5,522.2 L1635.9,521.1 L1636.3,520.0 L1636.7,518.8 L1637.1,517.7 L1637.5,516.6 L1637.9,515.4 L1638.3,514.3 L1638.7,513.2 L1639.1,512.0 L1639.5,510.9 L1639.9,509.8 L1640.3,508.7 L1640.7,507.5 L1641.1,506.4 L1641.5,505.3 L1641.9,504.1 L1642.3,503.0 L1642.7,501.9 L1643.1,500.7 L1643.5,499.6 L1643.9,498.5 L1644.4,497.4 L1644.8,496.2 L1645.2,495.1 L1645.6,494.0 L1646.0,492.8 L1646.4,491.7 L1646.8,490.6 L1647.2,489.5 L1647.6,488.3 L1648.1,487.2 L1648.5,486.1 L1648.9,485.0 L1649.3,483.8 L1649.7,482.7 L1650.1,481.6 L1650.5,480.5 L1651.0,479.3 L1651.4,478.2 L1651.8,477.1 L1652.3,476.0 L1652.7,474.9 L1653.2,473.8 L1653.6,472.6 L1654.1,471.5 L1654.6,470.4 L1655.0,469.3 L1655.5,468.2 L1656.0,467.1 L1656.4,466.0 L1656.9,464.9 L1657.4,463.8 L1657.8,462.7 L1658.3,461.6 L1658.8,460.5 L1659.3,459.4 L1659.8,458.3 L1660.3,457.2 L1660.8,456.2 L1661.4,455.1 L1661.9,454.0 L1662.5,453.0 L1663.1,451.9 L1663.6,450.9 L1664.2,449.8 L1664.8,448.8 L1665.4,447.7 L1666.0,446.7 L1666.5,445.6 L1667.1,444.6 L1667.7,443.5 L1668.3,442.5 L1668.9,441.4 L1669.5,440.4 L1670.1,439.4 L1670.8,438.3 L1671.4,437.3 L1672.0,436.3 L1672.6,435.3 L1673.3,434.3 L1673.9,433.2 L1674.5,432.2 L1675.2,431.2 L1675.8,430.2 L1676.5,429.2 L1677.1,428.2 L1677.8,427.2 L1678.6,426.3 L1679.3,425.4 L1680.1,424.5 L1680.9,423.6 L1681.7,422.7 L1682.5,421.8 L1683.3,420.9 L1684.2,420.0 L1685.0,419.2 L1685.9,418.4 L1686.8,417.6 L1687.7,416.9 L1688.7,416.2 L1689.7,415.6 L1690.7,415.0 L1691.8,414.3 L1692.8,413.7 L1693.8,413.1 L1694.9,412.6 L1695.9,412.0 L1697.0,411.4 L1698.1,410.9 L1699.1,410.3 L1700.2,409.8 L1701.3,409.3 L1702.4,408.7 L1703.4,408.2 L1704.5,407.7 L1705.6,407.2 L1706.7,406.7 L1707.8,406.2 L1708.9,405.7 L1710.0,405.2 L1711.1,404.7 L1712.2,404.2 L1713.3,403.7 L1714.3,403.2 L1715.4,402.7 L1716.5,402.2 L1717.6,401.7 L1718.7,401.2 L1719.8,400.7 L1720.9,400.3 L1722.0,399.8 L1723.1,399.3 L1724.2,398.9 L1725.3,398.4 L1726.5,398.0 L1727.6,397.5 L1728.7,397.1 L1729.8,396.7 L1731.0,396.3 L1732.1,395.9 L1733.2,395.6 L1734.4,395.3 L1735.5,395.0 L1736.7,394.7 L1737.9,394.5 L1739.0,394.4 L1740.2,394.3 L1741.3,394.4 L1742.5,394.6 L1743.6,394.8 L1744.7,395.2 L1745.7,395.7 L1746.7,396.2 L1747.6,396.9 L1748.5,397.7 L1749.3,398.6 L1750.0,399.5 L1750.7,400.4 L1751.3,401.4 L1751.9,402.5 L1752.4,403.5 L1752.8,404.6 L1753.2,405.8 L1753.7,406.9 L1754.1,408.0 L1754.5,409.1 L1754.9,410.3 L1755.3,411.4 L1755.7,412.5 L1756.0,413.7 L1756.4,414.8 L1756.8,415.9 L1757.2,417.1 L1757.5,418.2 L1757.9,419.4 L1758.3,420.5 L1758.6,421.7 L1759.0,422.8 L1759.4,423.9 L1759.7,425.1 L1760.1,426.2 L1760.5,427.4 L1760.8,428.5 L1761.2,429.7 L1761.6,430.8 L1762.0,431.9 L1762.4,433.1 L1762.8,434.2 L1763.2,435.3 L1763.6,436.5 L1764.0,437.6 L1764.4,438.7 L1764.8,439.8 L1765.2,441.0 L1765.6,442.1 L1766.0,443.2 L1766.4,444.3 L1766.8,445.5 L1767.3,446.6 L1767.7,447.7 L1768.1,448.9 L1768.5,450.0 L1768.9,451.1 L1769.3,452.2 L1769.7,453.4 L1770.1,454.5 L1770.5,455.6 L1770.9,456.8 L1771.4,457.9 L1771.8,459.0 L1772.2,460.1 L1772.6,461.3 L1773.0,462.4 L1773.4,463.5 L1773.8,464.6 L1774.2,465.8 L1774.7,466.9 L1775.1,468.0 L1775.5,469.1 L1776.0,470.2 L1776.4,471.4 L1776.9,472.5 L1777.3,473.6 L1777.7,474.7 L1778.2,475.8 L1778.6,476.9 L1779.1,478.1 L1779.5,479.2 L1780.0,480.3 L1780.4,481.4 L1780.9,482.5 L1781.3,483.6 L1781.8,484.7 L1782.2,485.8 L1782.7,486.9 L1783.2,488.0 L1783.7,489.1 L1784.1,490.2 L1784.6,491.3 L1785.1,492.4 L1785.6,493.5 L1786.0,494.6 L1786.5,495.7 L1787.0,496.8 L1787.5,497.9 L1788.0,499.0 L1788.5,500.1 L1788.9,501.2 L1789.4,502.3 L1789.9,503.4 L1790.4,504.5 L1790.9,505.6 L1791.4,506.7 L1791.9,507.8 L1792.5,508.9 L1793.0,510.0 L1793.5,511.0 L1794.0,512.1 L1794.5,513.2 L1794.9,514.3 L1795.4,515.4 L1795.9,516.5 L1796.4,517.6 L1796.8,518.7 L1797.3,519.9 L1797.7,521.0 L1798.2,522.1 L1798.6,523.2 L1799.1,524.3 L1799.5,525.4 L1800.0,526.5 L1800.4,527.6 L1800.9,528.8 L1801.3,529.9 L1801.7,531.0 L1802.1,532.1 L1802.5,533.3 L1802.9,534.4 L1803.3,535.5 L1803.7,536.7 L1804.0,537.8 L1804.4,539.0 L1804.8,540.1 L1805.1,541.2 L1805.5,542.4 L1805.8,543.5 L1806.2,544.7 L1806.6,545.8 L1806.9,547.0 L1807.3,548.1 L1807.7,549.2 L1808.1,550.4 L1808.5,551.5 L1808.9,552.6 L1809.3,553.7 L1809.7,554.8 L1810.2,555.9 L1810.6,556.8 L1811.1,557.6 L1811.6,558.1 L1812.1,558.3 L1812.6,558.1 L1813.2,557.7 L1813.8,556.9 L1814.4,556.1 L1815.0,555.1 L1815.6,554.1 L1816.2,553.1 L1816.7,552.0 L1817.3,551.0 L1817.8,549.9 L1818.2,548.8 L1818.6,547.7 L1818.9,546.5 L1819.3,545.4 L1819.6,544.2 L1819.9,543.1 L1820.2,541.9 L1820.4,540.7 L1820.7,539.6 L1821.0,538.4 L1821.3,537.2 L1821.6,536.1 L1821.9,534.9 L1822.1,533.7 L1822.4,532.6 L1822.7,531.4 L1823.0,530.2 L1823.3,529.1 L1823.6,527.9 L1823.9,526.8 L1824.2,525.6 L1824.5,524.4 L1824.9,523.3 L1825.2,522.1 L1825.5,521.0 L1825.9,519.8 L1826.2,518.7 L1826.5,517.5 L1826.9,516.4 L1827.2,515.2 L1827.6,514.1 L1827.9,512.9 L1828.3,511.8 L1828.7,510.7 L1829.1,509.6 L1829.6,508.6 L1830.2,507.6 L1830.9,506.8 L1831.7,506.1 L1832.6,505.6 L1833.6,505.2 L1834.6,505.1 L1835.8,505.1 L1836.9,505.1 L1838.1,505.3 L1839.3,505.4 L1840.4,505.6 L1841.6,505.8 L1842.8,505.9 L1844.0,506.1 L1845.2,506.3 L1846.4,506.4 L1847.6,506.6 L1848.8,506.7 L1850.0,506.8 L1851.1,506.9 L1852.3,507.1 L1853.5,507.2 L1854.7,507.3 L1855.9,507.5 L1857.1,507.6 L1858.3,507.8 L1859.4,508.1 L1860.5,508.4 L1861.6,508.8 L1862.6,509.4 L1863.6,510.0 L1864.4,510.7 L1865.2,511.6 L1865.9,512.5 L1866.6,513.4 L1867.2,514.5 L1867.8,515.5 L1868.3,516.6 L1868.9,517.6 L1869.4,518.7 L1870.0,519.7 L1870.5,520.8 L1871.1,521.9 L1871.6,522.9 L1872.2,524.0 L1872.7,525.1 L1873.3,526.1 L1873.8,527.2 L1874.4,528.3 L1875.0,529.3 L1875.5,530.4 L1876.1,531.4 L1876.6,532.5 L1877.2,533.6 L1877.8,534.6 L1878.3,535.7 L1878.9,536.7 L1879.5,537.8 L1880.1,538.8 L1880.7,539.8 L1881.4,540.8 L1882.0,541.8 L1882.7,542.8 L1883.4,543.8 L1884.1,544.8 L1884.8,545.7 L1885.5,546.7 L1886.2,547.7 L1887.0,548.6 L1887.7,549.5 L1888.5,550.4 L1889.3,551.3 L1890.2,552.1 L1891.1,552.9 L1892.1,553.6 L1893.0,554.3 L1894.0,555.0 L1895.0,555.6 L1896.0,556.2 L1897.0,556.8 L1898.1,557.3 L1899.2,557.7 L1900.3,558.1 L1901.5,558.4 L1902.6,558.8 L1903.8,559.1 L1905.0,559.4 L1906.1,559.7 L1907.3,560.0 L1908.4,560.3 L1909.5,560.7 L1910.6,561.2 L1911.6,561.7 L1912.5,562.4 L1913.5,563.1 L1914.4,563.9 L1915.2,564.7 L1916.1,565.5 L1916.9,566.4 L1917.8,567.2 L1918.6,568.1 L1919.4,568.9 L1920.2,569.8 L1921.0,570.7 L1921.8,571.6 L1922.6,572.6 L1923.3,573.5 L1924.1,574.4 L1924.8,575.4 L1925.6,576.3 L1926.3,577.2 L1927.1,578.2 L1927.8,579.1 L1928.6,580.0 L1929.3,581.0 L1930.1,581.9 L1930.8,582.9 L1931.6,583.8 L1932.3,584.8 L1933.0,585.7 L1933.7,586.7 L1934.4,587.7 L1935.1,588.6 L1935.9,589.6 L1936.6,590.6 L1937.3,591.5 L1938.0,592.5 L1938.7,593.5 L1939.4,594.4 L1940.1,595.4 L1940.8,596.4 L1941.5,597.3 L1942.2,598.3 L1942.9,599.3 L1943.6,600.2 L1944.3,601.2 L1945.0,602.2 L1945.7,603.2 L1946.4,604.2 L1947.1,605.1 L1947.8,606.1 L1948.5,607.1 L1949.1,608.1 L1949.8,609.1 L1950.5,610.1 L1951.1,611.1 L1951.8,612.1 L1952.5,613.1 L1953.2,614.1 L1953.8,615.1 L1954.5,616.1 L1955.2,617.1 L1955.8,618.1 L1956.5,619.1 L1957.2,620.1 L1957.9,621.1 L1958.5,622.0 L1959.2,623.0 L1959.9,624.0 L1960.6,625.0 L1961.3,625.9 L1962.0,626.9 L1962.7,627.9 L1963.5,628.8 L1964.2,629.8 L1964.9,630.8 L1965.6,631.7 L1966.3,632.7 L1967.1,633.6 L1967.8,634.6 L1968.5,635.6 L1969.2,636.5 L1969.9,637.5 L1970.7,638.4 L1971.4,639.4 L1972.1,640.3 L1972.9,641.2 L1973.7,642.1 L1974.5,643.0 L1975.4,643.8 L1976.3,644.6 L1977.2,645.4 L1978.1,646.2 L1979.0,646.9 L1980.0,647.7 L1980.9,648.4 L1981.8,649.2 L1982.8,649.9 L1983.7,650.7 L1984.6,651.4 L1985.6,652.2 L1986.5,652.9 L1987.4,653.7 L1988.4,654.5 L1989.3,655.2 L1990.2,656.0 L1991.1,656.8 L1992.0,657.6 L1992.9,658.4 L1993.8,659.2 L1994.7,660.0 L1995.5,660.8 L1996.3,661.7 L1997.0,662.6 L1997.7,663.6 L1998.4,664.6 L1999.0,665.6 L1999.7,666.6 L2000.3,667.6 L2000.9,668.7 L2001.5,669.7 L2002.1,670.7 L2002.7,671.8 L2003.3,672.8 L2003.9,673.8 L2004.5,674.9 L2005.1,675.9 L2005.7,677.0 L2006.3,678.0 L2006.9,679.0 L2007.5,680.1 L2008.1,681.1 L2008.7,682.2 L2009.3,683.2 L2009.9,684.3 L2010.5,685.3 L2011.0,686.4 L2011.6,687.4 L2012.1,688.5 L2012.7,689.6 L2013.2,690.6 L2013.8,691.7 L2014.3,692.8 L2014.9,693.8 L2015.4,694.9 L2015.9,696.0 L2016.5,697.1 L2017.0,698.1 L2017.6,699.2 L2018.1,700.3 L2018.7,701.3 L2019.3,702.4 L2019.8,703.4 L2020.4,704.5 L2021.0,705.6 L2021.5,706.6 L2022.1,707.7 L2022.7,708.7 L2023.2,709.8 L2023.8,710.8 L2024.4,711.9 L2024.9,713.0 L2025.5,714.0 L2026.1,715.1 L2026.6,716.1 L2027.2,717.2 L2027.8,718.2 L2028.4,719.3 L2029.0,720.3 L2029.6,721.3 L2030.2,722.3 L2030.8,723.2 L2031.4,724.0 L2032.1,724.6 L2032.7,724.9 L2033.4,724.9 L2034.1,724.6 L2034.8,724.1 L2035.6,723.3 L2036.3,722.5 L2037.0,721.6 L2037.8,720.6 L2038.5,719.7 L2039.1,718.7 L2039.8,717.7 L2040.5,716.8 L2041.2,715.8 L2041.9,715.0 L2042.7,714.3 L2043.7,713.8 L2044.6,713.4 L2045.7,713.2 L2046.7,713.2 L2047.7,713.4 L2048.6,713.7 L2049.5,714.2 L2050.2,715.0 L2050.9,715.8 L2051.5,716.8 L2052.1,717.8 L2052.6,718.9 L2053.0,720.0 L2053.4,721.1 L2053.8,722.2 L2054.1,723.3 L2054.4,724.5 L2054.7,725.7 L2055.0,726.8 L2055.3,728.0 L2055.6,729.1 L2056.0,730.2 L2056.4,731.2 L2056.8,732.2 L2057.7,732.8 L2058.7,733.3 L2059.8,733.8 L2060.3,734.0" stroke-width="5.5"/>
<path d="M250.4,1140.5 L251.0,1139.6 L251.6,1138.8 L252.1,1138.0 L252.7,1137.2 L253.3,1136.4 L253.8,1135.6 L254.4,1134.7 L254.9,1133.9 L255.5,1133.1 L256.1,1132.3 L256.6,1131.4 L257.2,1130.6 L257.8,1129.8 L258.3,1128.9 L258.8,1128.1 L258.9,1128.0 M272.8,1101.9 L273.2,1101.0 L273.7,1100.1 L274.2,1099.2 L274.7,1098.4 L275.1,1097.5 L275.6,1096.6 L276.1,1095.7 L276.5,1094.8 L277.0,1093.9 L277.5,1093.1 L278.0,1092.2 L278.4,1091.3 L278.9,1090.4 L279.4,1089.5 L279.8,1088.7 L280.3,1087.8 L280.8,1086.9 L281.3,1086.0 L281.7,1085.1 L282.2,1084.2 L282.7,1083.4 L283.1,1082.5 L283.6,1081.6 L283.7,1081.4 M296.8,1055.1 L297.3,1054.2 L297.8,1053.4 L298.3,1052.5 L298.8,1051.6 L299.3,1050.8 L299.8,1049.9 L300.3,1049.0 L300.8,1048.2 L301.3,1047.3 L301.9,1046.5 L302.4,1045.7 L303.0,1044.8 L303.6,1044.0 L304.2,1043.3 L304.8,1042.5 L305.5,1041.7 L306.1,1041.0 L306.8,1040.2 L307.4,1039.5 L308.1,1038.7 L308.8,1038.0 L309.4,1037.2 L310.0,1036.4 L310.7,1035.7 L311.3,1034.9 L311.5,1034.6 M327.1,1008.5 L327.6,1007.6 L328.0,1006.7 L328.5,1005.8 L328.9,1004.9 L329.4,1004.0 L329.8,1003.1 L330.3,1002.2 L330.7,1001.3 L331.2,1000.4 L331.6,999.5 L332.1,998.6 L332.5,997.7 L333.0,996.8 L333.5,996.0 L334.0,995.1 L334.5,994.2 L335.0,993.4 L335.5,992.5 L336.0,991.6 L336.5,990.8 L337.0,989.9 L337.5,989.1 L338.0,988.2 L338.0,988.2 M352.6,962.2 L353.0,961.3 L353.5,960.4 L354.0,959.5 L354.4,958.7 L354.9,957.8 L355.4,956.9 L355.8,956.0 L356.3,955.1 L356.7,954.2 L357.2,953.3 L357.6,952.4 L358.0,951.5 L358.4,950.6 L358.8,949.7 L359.2,948.8 L359.7,947.9 L360.1,947.0 L360.5,946.0 L360.9,945.1 L361.3,944.2 L361.7,943.3 L362.1,942.4 L362.4,941.8 M375.5,915.8 L375.9,914.9 L376.4,914.0 L376.9,913.2 L377.4,912.3 L377.9,911.4 L378.4,910.5 L378.9,909.7 L379.4,908.8 L379.8,907.9 L380.3,907.0 L380.8,906.2 L381.3,905.3 L381.8,904.4 L382.3,903.6 L382.8,902.7 L383.3,901.8 L383.8,901.0 L384.3,900.1 L384.8,899.2 L385.3,898.4 L385.8,897.5 L386.3,896.6 L386.8,895.8 L387.1,895.3 M403.6,869.9 L404.2,869.1 L404.8,868.3 L405.4,867.5 L406.0,866.7 L406.5,865.8 L407.1,865.0 L407.7,864.2 L408.3,863.4 L408.9,862.6 L409.5,861.8 L410.1,861.0 L410.7,860.3 L411.4,859.5 L412.1,858.7 L412.7,858.0 L413.4,857.3 L414.1,856.6 L414.8,855.9 L415.5,855.2 L416.2,854.5 L416.9,853.8 L417.7,853.0 L418.4,852.3 L419.1,851.6 L419.6,851.1 M442.2,827.8 L442.9,827.1 L443.6,826.3 L444.2,825.6 L444.9,824.9 L445.6,824.2 L446.3,823.4 L447.0,822.7 L447.7,822.0 L448.3,821.2 L449.0,820.5 L449.7,819.8 L450.4,819.1 L451.1,818.3 L451.8,817.6 L452.5,816.9 L453.2,816.2 L453.9,815.5 L454.6,814.8 L455.3,814.1 L456.0,813.4 L456.7,812.7 L457.4,812.0 L458.1,811.3 L458.9,810.5 L459.6,809.8 L459.8,809.6 M483.3,786.1 L484.0,785.4 L484.7,784.7 L485.4,784.0 L486.1,783.3 L486.9,782.5 L487.6,781.8 L488.3,781.1 L489.0,780.4 L489.7,779.7 L490.4,779.0 L491.1,778.3 L491.7,777.5 L492.4,776.8 L493.1,776.1 L493.8,775.3 L494.4,774.6 L495.1,773.8 L495.7,773.1 L496.4,772.3 L497.1,771.6 L497.7,770.8 L498.4,770.1 L499.0,769.3 L499.7,768.6 L500.4,767.8 L501.0,767.1 L501.4,766.7 M523.6,741.5 L524.3,740.8 L524.9,740.0 L525.5,739.2 L526.1,738.4 L526.7,737.6 L527.3,736.8 L527.9,736.0 L528.5,735.2 L529.0,734.4 L529.6,733.5 L530.2,732.7 L530.8,732.0 L531.5,731.2 L532.1,730.4 L532.7,729.6 L533.4,728.9 L534.0,728.1 L534.7,727.4 L535.4,726.6 L536.0,725.9 L536.7,725.1 L537.4,724.4 L538.1,723.7 L538.7,722.9 L539.4,722.1 L539.8,721.6 M558.0,696.4 L558.6,695.6 L559.2,694.8 L559.7,693.9 L560.3,693.1 L560.8,692.3 L561.4,691.5 L562.0,690.6 L562.5,689.8 L563.1,689.0 L563.6,688.1 L564.2,687.3 L564.7,686.5 L565.3,685.6 L565.8,684.8 L566.4,684.0 L566.9,683.1 L567.5,682.3 L568.1,681.5 L568.6,680.6 L569.2,679.8 L569.7,679.0 L570.3,678.2 L570.9,677.3 L571.2,676.9 M592.9,652.3 L593.6,651.6 L594.3,650.9 L595.1,650.2 L595.8,649.5 L596.5,648.8 L597.2,648.2 L598.0,647.5 L598.7,646.8 L599.4,646.1 L600.2,645.4 L600.9,644.7 L601.6,644.1 L602.4,643.4 L603.1,642.7 L603.8,642.0 L604.6,641.3 L605.3,640.7 L606.0,640.0 L606.8,639.3 L607.5,638.6 L608.2,637.9 L609.0,637.3 L609.7,636.6 L610.4,635.9 L611.2,635.3 L612.0,634.6 L612.5,634.2 M638.6,615.6 L639.5,615.0 L640.3,614.5 L641.2,614.0 L642.0,613.4 L642.9,612.9 L643.7,612.4 L644.6,611.9 L645.4,611.3 L646.3,610.8 L647.1,610.3 L648.0,609.8 L648.8,609.3 L649.7,608.7 L650.5,608.2 L651.4,607.7 L652.2,607.2 L653.1,606.6 L654.0,606.1 L654.8,605.6 L655.7,605.1 L656.5,604.5 L657.4,604.0 L658.2,603.5 L659.0,602.9 L659.1,602.9 M685.2,584.0 L686.0,583.4 L686.8,582.8 L687.6,582.2 L688.4,581.6 L689.2,581.0 L690.0,580.4 L690.8,579.8 L691.6,579.2 L692.4,578.7 L693.2,578.1 L694.0,577.5 L694.9,576.9 L695.7,576.3 L696.5,575.7 L697.3,575.1 L698.1,574.5 L698.9,573.9 L699.7,573.4 L700.5,572.8 L701.3,572.2 L702.1,571.6 L703.0,571.0 L703.8,570.4 L704.6,569.9 L705.4,569.3 L705.7,569.2 M731.6,551.8 L732.5,551.2 L733.3,550.7 L734.1,550.2 L735.0,549.7 L735.9,549.1 L736.7,548.6 L737.6,548.1 L738.4,547.6 L739.3,547.1 L740.1,546.5 L741.0,546.0 L741.8,545.5 L742.7,545.0 L743.6,544.5 L744.4,544.0 L745.3,543.4 L746.1,542.9 L747.0,542.4 L747.8,541.9 L748.7,541.4 L749.6,540.9 L750.4,540.4 L751.3,539.9 L751.8,539.6 M777.6,545.1 L778.5,544.8 L779.3,544.3 L780.2,543.8 L781.1,543.3 L781.9,542.8 L782.8,542.3 L783.6,541.8 L784.5,541.3 L785.3,540.7 L786.2,540.2 L787.0,539.7 L787.9,539.2 L788.7,538.7 L789.6,538.1 L790.4,537.6 L791.3,537.1 L792.1,536.6 L793.0,536.0 L793.9,535.5 L794.7,535.0 L795.6,534.5 L796.4,533.9 L797.2,533.4 L798.1,532.8 L798.4,532.6 M824.3,513.1 L825.1,512.6 L826.0,512.1 L826.9,511.6 L827.7,511.1 L828.6,510.6 L829.5,510.1 L830.4,509.6 L831.2,509.1 L832.1,508.6 L833.0,508.1 L833.8,507.6 L834.7,507.1 L835.6,506.6 L836.4,506.1 L837.3,505.6 L838.2,505.1 L839.1,504.6 L839.9,504.1 L840.8,503.7 L841.7,503.2 L842.5,502.7 L843.4,502.2 L844.2,501.6 L844.7,501.4 M852.9,496.0 L853.7,495.5 L854.6,495.0 L855.4,494.4 L856.3,493.9 L857.1,493.4 L858.0,492.9 L858.8,492.3 L859.7,491.8 L860.5,491.3 L861.4,490.8 L862.2,490.2 L863.1,489.7 L863.9,489.2 L864.8,488.7 L865.6,488.1 L866.5,487.6 L867.3,487.1 L868.2,486.5 L869.0,486.0 L869.9,485.5 L870.7,485.0 L871.5,484.5 M897.6,471.6 L898.6,471.3 L899.6,471.1 L900.6,470.9 L901.5,470.7 L902.5,470.6 L903.5,470.4 L904.5,470.2 L905.5,470.1 L906.5,469.9 L907.5,469.7 L908.4,469.6 L909.4,469.4 L910.4,469.3 L911.4,469.1 L912.4,468.9 L913.4,468.8 L914.4,468.6 L915.3,468.4 L916.3,468.3 L917.3,468.1 L918.2,467.9 M944.2,454.7 L944.9,454.0 L945.7,453.4 L946.5,452.8 L947.2,452.1 L948.0,451.5 L948.7,450.8 L949.5,450.1 L950.2,449.5 L951.0,448.8 L951.8,448.2 L952.5,447.5 L953.3,446.9 L954.0,446.2 L954.8,445.5 L955.5,444.9 L956.3,444.2 L957.0,443.6 L957.8,442.9 L958.5,442.3 L959.3,441.6 L960.0,440.9 L960.8,440.3 L961.5,439.6 L962.3,438.9 L963.0,438.3 L963.7,437.6 L963.7,437.6 M988.4,415.8 L989.2,415.2 L990.0,414.7 L990.9,414.2 L991.7,413.7 L992.6,413.2 L993.5,412.7 L994.4,412.2 L995.2,411.7 L996.1,411.2 L997.0,410.7 L997.8,410.2 L998.7,409.7 L999.6,409.2 L1000.4,408.7 L1001.3,408.2 L1002.2,407.7 L1003.0,407.2 L1003.9,406.7 L1004.8,406.2 L1005.7,405.8 L1006.5,405.3 L1007.4,404.8 L1008.3,404.3 L1008.8,404.0 M1034.7,390.1 L1035.6,389.7 L1036.5,389.4 L1037.5,389.0 L1038.4,388.7 L1039.4,388.4 L1040.3,388.1 L1041.3,387.8 L1042.2,387.4 L1043.2,387.1 L1044.1,386.8 L1045.1,386.5 L1046.0,386.2 L1047.0,385.9 L1047.9,385.6 L1048.9,385.3 L1049.8,385.0 L1050.8,384.6 L1051.7,384.3 L1052.7,384.0 L1053.6,383.7 L1054.6,383.5 L1054.9,383.4 M1080.1,386.4 L1081.0,386.9 L1081.8,387.4 L1082.6,388.0 L1083.3,388.7 L1084.0,389.3 L1084.7,390.1 L1085.4,390.8 L1086.1,391.5 L1086.7,392.3 L1087.4,393.0 L1088.1,393.7 L1088.8,394.5 L1089.5,395.2 L1090.1,395.9 L1090.8,396.7 L1091.5,397.4 L1092.2,398.1 L1092.8,398.9 L1093.5,399.6 L1094.2,400.3 L1094.9,401.1 L1095.6,401.8 L1096.2,402.5 L1096.9,403.3 L1097.2,403.8 M1111.0,428.9 L1111.4,429.8 L1111.8,430.7 L1112.3,431.6 L1112.7,432.5 L1113.1,433.4 L1113.6,434.3 L1114.0,435.2 L1114.5,436.1 L1114.9,437.0 L1115.4,437.9 L1115.8,438.8 L1116.3,439.7 L1116.7,440.6 L1117.1,441.5 L1117.6,442.4 L1118.0,443.3 L1118.5,444.2 L1118.9,445.1 L1119.4,446.0 L1119.8,446.9 L1120.2,447.8 L1120.7,448.7 L1120.9,449.1 M1129.6,474.2 L1130.0,475.1 L1130.4,476.0 L1130.9,476.9 L1131.3,477.8 L1131.8,478.7 L1132.3,479.6 L1132.8,480.4 L1133.3,481.3 L1133.8,482.2 L1134.3,483.0 L1134.8,483.9 L1135.3,484.8 L1135.8,485.6 L1136.3,486.5 L1136.8,487.4 L1137.3,488.2 L1137.8,489.1 L1138.3,490.0 L1138.8,490.8 L1139.3,491.7 L1139.7,492.6 L1140.0,493.0 M1145.6,517.4 L1145.9,518.3 L1146.1,519.2 L1146.5,520.1 L1146.9,520.9 L1147.5,521.6 L1148.1,522.3 L1148.8,522.8 L1149.6,523.4 L1150.5,523.9 L1151.3,524.4 L1152.2,524.9 L1153.1,525.3 L1154.0,525.7 L1154.9,526.1 L1155.8,526.5 L1156.8,526.8 L1157.7,527.1 L1158.6,527.2 L1159.4,527.3 L1160.1,527.3 L1160.7,527.0 L1161.2,526.5 L1161.6,526.0 M1167.2,501.3 L1167.5,500.3 L1167.8,499.4 L1168.2,498.5 L1168.6,497.6 L1169.1,496.7 L1169.6,495.8 L1170.0,494.9 L1170.5,494.1 L1171.0,493.2 L1171.5,492.3 L1172.0,491.4 L1172.5,490.6 L1173.0,489.7 L1173.5,488.8 L1173.9,488.0 L1174.4,487.1 L1174.9,486.2 L1175.4,485.3 L1175.9,484.5 L1176.4,483.6 L1176.9,482.8 L1177.4,481.9 L1177.6,481.7 M1197.7,458.9 L1198.1,458.0 L1198.5,457.1 L1198.8,456.2 L1199.2,455.2 L1199.6,454.3 L1199.9,453.4 L1200.3,452.4 L1200.6,451.5 L1201.0,450.6 L1201.3,449.6 L1201.7,448.7 L1202.0,447.8 L1202.4,446.8 L1202.7,445.9 L1203.1,444.9 L1203.4,444.0 L1203.8,443.1 L1204.2,442.1 L1204.5,441.2 L1204.9,440.3 L1205.1,439.6 M1219.6,415.8 L1220.4,415.1 L1221.1,414.5 L1221.9,413.8 L1222.7,413.2 L1223.4,412.6 L1224.2,411.9 L1225.0,411.3 L1225.8,410.7 L1226.6,410.1 L1227.3,409.4 L1228.1,408.8 L1228.9,408.2 L1229.7,407.6 L1230.5,406.9 L1231.2,406.3 L1232.0,405.7 L1232.8,405.0 L1233.6,404.4 L1234.3,403.8 L1235.0,403.1 L1235.7,402.4 L1236.4,401.6 L1237.0,400.9 L1237.6,400.1 L1237.7,399.9 M1248.5,375.3 L1249.0,374.4 L1249.5,373.5 L1250.0,372.7 L1250.6,371.9 L1251.1,371.0 L1251.6,370.2 L1252.2,369.3 L1252.7,368.5 L1253.2,367.6 L1253.8,366.8 L1254.3,365.9 L1254.8,365.1 L1255.4,364.2 L1255.9,363.4 L1256.4,362.6 L1257.0,361.7 L1257.5,360.9 L1258.0,360.0 L1258.6,359.2 L1259.1,358.3 L1259.6,357.5 L1260.2,356.6 L1260.4,356.2 M1276.4,331.4 L1277.0,330.6 L1277.6,329.8 L1278.2,329.0 L1278.8,328.2 L1279.4,327.4 L1280.0,326.6 L1280.7,325.9 L1281.3,325.1 L1281.9,324.3 L1282.5,323.5 L1283.1,322.7 L1283.7,321.9 L1284.3,321.1 L1285.0,320.3 L1285.6,319.5 L1286.2,318.8 L1286.8,318.0 L1287.4,317.2 L1288.0,316.4 L1288.7,315.6 L1289.3,314.8 L1289.9,314.1 L1290.6,313.3 L1291.2,312.6 L1291.7,312.1 M1315.8,290.2 L1316.6,289.6 L1317.5,289.1 L1318.3,288.5 L1319.2,288.0 L1320.0,287.5 L1320.9,287.0 L1321.7,286.5 L1322.6,285.9 L1323.5,285.4 L1324.3,284.9 L1325.2,284.4 L1326.0,283.9 L1326.9,283.4 L1327.7,282.9 L1328.6,282.4 L1329.5,281.8 L1330.3,281.3 L1331.2,280.8 L1332.0,280.3 L1332.9,279.8 L1333.8,279.3 L1334.7,278.9 L1335.6,278.4 L1336.0,278.2 M1361.8,280.7 L1362.6,281.3 L1363.3,282.0 L1363.9,282.7 L1364.6,283.5 L1365.2,284.3 L1365.8,285.1 L1366.4,285.9 L1367.0,286.7 L1367.6,287.4 L1368.2,288.2 L1368.8,289.0 L1369.4,289.8 L1370.0,290.6 L1370.7,291.4 L1371.3,292.2 L1371.9,293.0 L1372.5,293.8 L1373.1,294.6 L1373.7,295.4 L1374.3,296.2 L1374.9,297.0 L1375.5,297.8 L1376.1,298.6 L1376.7,299.4 L1377.3,300.2 L1377.4,300.4 M1388.8,325.8 L1389.2,326.8 L1389.6,327.7 L1390.0,328.6 L1390.4,329.5 L1390.8,330.4 L1391.2,331.3 L1391.7,332.2 L1392.1,333.1 L1392.5,334.1 L1392.9,335.0 L1393.3,335.9 L1393.7,336.8 L1394.1,337.7 L1394.6,338.6 L1395.0,339.5 L1395.4,340.4 L1395.8,341.3 L1396.2,342.3 L1396.6,343.2 L1397.0,344.1 L1397.4,345.0 L1397.6,345.4 M1409.6,369.2 L1410.5,369.6 L1411.4,369.9 L1412.3,370.2 L1413.3,370.4 L1414.2,370.5 L1415.2,370.5 L1416.2,370.6 L1417.2,370.6 L1418.2,370.6 L1419.2,370.6 L1420.2,370.6 L1421.2,370.5 L1422.2,370.5 L1423.1,370.3 L1424.1,370.2 L1425.1,369.9 L1426.0,369.6 L1426.9,369.2 L1427.8,368.8 L1428.3,368.5 M1448.5,344.9 L1449.0,344.1 L1449.6,343.3 L1450.2,342.5 L1450.7,341.6 L1451.3,340.8 L1451.8,340.0 L1452.4,339.1 L1452.9,338.3 L1453.5,337.5 L1454.1,336.6 L1454.6,335.8 L1455.2,335.0 L1455.7,334.1 L1456.3,333.3 L1456.8,332.5 L1457.4,331.7 L1458.0,330.8 L1458.5,330.0 L1459.1,329.2 L1459.7,328.4 L1460.3,327.6 L1461.0,326.8 L1461.6,326.1 L1462.2,325.3 L1462.9,324.6 L1463.5,323.8 L1464.2,323.0 L1464.9,322.3 L1465.5,321.5 L1466.2,320.8 L1466.8,320.0 L1467.5,319.2 L1468.1,318.5 L1468.8,317.7 L1469.4,317.0 L1470.1,316.2 L1470.7,315.5 L1471.4,314.7 L1472.1,314.0 L1472.7,313.3 L1473.5,312.6 L1473.5,312.6 M1499.5,310.6 L1500.2,311.2 L1500.8,311.9 L1501.3,312.7 L1501.8,313.5 L1502.3,314.4 L1502.8,315.3 L1503.2,316.1 L1503.7,317.0 L1504.2,317.9 L1504.6,318.8 L1505.1,319.7 L1505.6,320.6 L1506.0,321.5 L1506.5,322.3 L1506.9,323.2 L1507.4,324.1 L1507.9,325.0 L1508.3,325.9 L1508.8,326.8 L1509.3,327.7 L1509.7,328.5 L1510.2,329.4 L1510.6,330.3 L1510.9,330.9 M1516.8,356.9 L1516.9,357.9 L1517.1,358.9 L1517.2,359.9 L1517.4,360.9 L1517.5,361.9 L1517.7,362.8 L1517.8,363.8 L1518.0,364.8 L1518.1,365.8 L1518.3,366.8 L1518.4,367.8 L1518.6,368.8 L1518.7,369.8 L1518.9,370.7 L1519.1,371.7 L1519.2,372.7 L1519.4,373.7 L1519.5,374.7 L1519.7,375.7 L1519.9,376.7 L1520.0,377.3 M1524.2,403.3 L1524.4,404.3 L1524.5,405.3 L1524.7,406.3 L1524.9,407.3 L1525.0,408.2 L1525.2,409.2 L1525.3,410.2 L1525.5,411.2 L1525.7,412.2 L1525.8,413.2 L1526.0,414.2 L1526.2,415.2 L1526.3,416.1 L1526.5,417.1 L1526.7,418.1 L1526.8,419.1 L1527.0,420.1 L1527.1,421.1 L1527.3,422.1 L1527.5,423.0 L1527.6,423.6 M1531.0,449.7 L1531.1,450.7 L1531.2,451.7 L1531.3,452.7 L1531.5,453.7 L1531.6,454.7 L1531.7,455.7 L1531.8,456.7 L1531.9,457.7 L1532.1,458.6 L1532.2,459.6 L1532.3,460.6 L1532.4,461.6 L1532.5,462.6 L1532.6,463.6 L1532.8,464.6 L1532.9,465.6 L1533.0,466.6 L1533.1,467.6 L1533.2,468.6 L1533.4,469.6 L1533.4,470.1 M1536.2,496.1 L1536.3,497.1 L1536.4,498.1 L1536.5,499.1 L1536.6,500.1 L1536.7,501.1 L1536.8,502.1 L1536.9,503.1 L1537.0,504.1 L1537.1,505.1 L1537.2,506.1 L1537.3,507.1 L1537.4,508.1 L1537.5,509.1 L1537.6,510.0 L1537.7,511.0 L1537.8,512.0 L1537.9,513.0 L1538.0,514.0 L1538.1,515.0 L1538.2,516.0 L1538.2,516.5 M1540.7,542.5 L1540.7,543.5 L1540.8,544.5 L1540.9,545.5 L1541.0,546.5 L1541.1,547.5 L1541.2,548.5 L1541.3,549.5 L1541.4,550.5 L1541.5,551.5 L1541.6,552.5 L1541.7,553.5 L1541.7,554.5 L1541.8,555.4 L1541.9,556.4 L1542.0,557.4 L1542.1,558.4 L1542.2,559.4 L1542.3,560.4 L1542.4,561.4 L1542.5,562.4 L1542.5,562.9 M1544.6,588.9 L1544.7,589.9 L1544.8,590.9 L1544.9,591.9 L1544.9,592.9 L1545.0,593.9 L1545.1,594.9 L1545.2,595.9 L1545.2,596.9 L1545.3,597.9 L1545.4,598.9 L1545.5,599.9 L1545.6,600.9 L1545.6,601.9 L1545.7,602.9 L1545.8,603.9 L1545.9,604.9 L1546.0,605.9 L1546.0,606.9 L1546.1,607.9 L1546.2,608.9 L1546.2,609.3 M1548.5,635.4 L1548.6,636.4 L1548.7,637.4 L1548.8,638.4 L1548.9,639.4 L1548.9,640.4 L1549.0,641.3 L1549.1,642.3 L1549.2,643.3 L1549.3,644.3 L1549.4,645.3 L1549.5,646.3 L1549.6,647.3 L1549.7,648.3 L1549.8,649.3 L1549.8,650.3 L1549.9,651.3 L1550.0,652.3 L1550.1,653.3 L1550.2,654.3 L1550.3,655.3 L1550.3,655.7 M1552.8,681.7 L1552.9,682.7 L1553.0,683.7 L1553.1,684.7 L1553.2,685.6 L1553.4,686.6 L1553.5,687.6 L1553.7,688.6 L1553.8,689.6 L1553.9,690.6 L1554.1,691.6 L1554.2,692.6 L1554.4,693.6 L1554.5,694.6 L1554.6,695.5 L1554.8,696.5 L1554.9,697.5 L1555.1,698.5 L1555.2,699.5 L1555.3,700.5 L1555.4,701.5 L1555.5,701.9 M1557.9,727.9 L1558.0,728.9 L1558.1,729.9 L1558.3,730.9 L1558.4,731.8 L1558.6,732.8 L1558.7,733.8 L1558.9,734.8 L1559.0,735.8 L1559.2,736.8 L1559.3,737.8 L1559.5,738.8 L1559.6,739.7 L1559.8,740.7 L1559.9,741.7 L1560.1,742.7 L1560.2,743.7 L1560.4,744.7 L1560.5,745.7 L1560.7,746.7 L1560.8,747.7 L1560.9,748.3 M1563.0,774.4 L1563.1,775.4 L1563.2,776.3 L1563.3,777.3 L1563.5,778.3 L1563.6,779.3 L1563.8,780.3 L1563.9,781.3 L1564.1,782.3 L1564.2,783.3 L1564.4,784.3 L1564.5,785.2 L1564.7,786.2 L1564.8,787.2 L1565.0,788.2 L1565.1,789.2 L1565.3,790.2 L1565.4,791.2 L1565.5,792.2 L1565.7,793.2 L1565.8,794.2 L1565.9,794.8 M1568.0,820.9 L1568.1,821.8 L1568.3,822.8 L1568.4,823.8 L1568.6,824.8 L1568.8,825.8 L1569.0,826.8 L1569.2,827.7 L1569.3,828.7 L1569.5,829.7 L1569.7,830.7 L1569.9,831.7 L1570.1,832.7 L1570.3,833.6 L1570.5,834.6 L1570.6,835.6 L1570.8,836.6 L1571.0,837.6 L1571.2,838.6 L1571.4,839.5 L1571.5,840.5 L1571.6,841.2 M1573.6,867.4 L1573.8,868.4 L1573.9,869.4 L1574.0,870.4 L1574.2,871.4 L1574.3,872.4 L1574.5,873.4 L1574.6,874.4 L1574.8,875.3 L1575.0,876.3 L1575.1,877.3 L1575.3,878.3 L1575.4,879.3 L1575.6,880.3 L1575.7,881.3 L1575.9,882.3 L1576.0,883.3 L1576.2,884.2 L1576.3,885.2 L1576.5,886.2 L1576.6,887.2 L1576.7,888.0 M1584.5,913.8 L1584.9,914.0 L1585.2,913.9 L1585.5,913.5 L1585.8,912.9 L1586.0,912.1 L1586.3,911.2 L1586.5,910.3 L1586.8,909.3 L1587.0,908.4 L1587.3,907.4 L1587.5,906.4 L1587.8,905.5 L1588.0,904.5 L1588.3,903.5 L1588.5,902.5 L1588.8,901.6 L1589.0,900.6 L1589.3,899.6 L1589.5,898.7 L1589.8,897.7 L1590.0,896.7 L1590.3,895.8 L1590.5,894.8 L1590.5,894.7 M1595.6,868.9 L1595.8,867.9 L1596.0,867.0 L1596.2,866.0 L1596.4,865.0 L1596.6,864.0 L1596.8,863.1 L1597.0,862.1 L1597.3,861.1 L1597.5,860.1 L1597.7,859.2 L1597.9,858.2 L1598.1,857.2 L1598.4,856.2 L1598.6,855.3 L1598.8,854.3 L1599.0,853.3 L1599.2,852.3 L1599.4,851.3 L1599.7,850.4 L1599.9,849.4 L1600.0,848.4 L1600.0,848.4 M1604.7,822.4 L1605.0,821.5 L1605.2,820.5 L1605.5,819.5 L1605.8,818.6 L1606.1,817.6 L1606.3,816.7 L1606.6,815.7 L1606.9,814.8 L1607.2,813.8 L1607.5,812.8 L1607.7,811.9 L1608.0,810.9 L1608.3,810.0 L1608.6,809.0 L1608.9,808.0 L1609.2,807.1 L1609.4,806.1 L1609.7,805.2 L1610.0,804.2 L1610.3,803.2 L1610.6,802.3 L1610.6,802.3 M1617.0,776.3 L1617.3,775.3 L1617.5,774.3 L1617.7,773.4 L1618.0,772.4 L1618.2,771.4 L1618.4,770.4 L1618.7,769.5 L1618.9,768.5 L1619.1,767.5 L1619.3,766.5 L1619.6,765.6 L1619.8,764.6 L1620.0,763.6 L1620.3,762.7 L1620.5,761.7 L1620.7,760.7 L1621.0,759.7 L1621.2,758.8 L1621.4,757.8 L1621.6,756.8 L1621.8,755.8 L1621.8,755.6 M1624.7,729.5 L1624.8,728.5 L1625.0,727.5 L1625.1,726.5 L1625.3,725.5 L1625.4,724.6 L1625.6,723.6 L1625.7,722.6 L1625.9,721.6 L1626.0,720.6 L1626.2,719.6 L1626.3,718.6 L1626.5,717.6 L1626.6,716.7 L1626.8,715.7 L1626.9,714.7 L1627.1,713.7 L1627.2,712.7 L1627.4,711.7 L1627.5,710.7 L1627.7,709.7 L1627.7,709.3 M1629.8,683.3 L1629.9,682.3 L1630.0,681.3 L1630.1,680.3 L1630.2,679.3 L1630.3,678.3 L1630.4,677.4 L1630.5,676.4 L1630.7,675.4 L1630.8,674.4 L1630.9,673.4 L1631.0,672.4 L1631.1,671.4 L1631.2,670.4 L1631.3,669.4 L1631.4,668.4 L1631.5,667.4 L1631.6,666.4 L1631.7,665.4 L1631.8,664.4 L1631.9,663.4 L1632.0,662.9 M1633.9,636.7 L1634.0,635.7 L1634.1,634.7 L1634.2,633.7 L1634.3,632.7 L1634.4,631.7 L1634.5,630.7 L1634.6,629.7 L1634.7,628.7 L1634.7,627.7 L1634.8,626.8 L1634.9,625.8 L1635.0,624.8 L1635.1,623.8 L1635.2,622.8 L1635.3,621.8 L1635.4,620.8 L1635.5,619.8 L1635.6,618.8 L1635.7,617.8 L1635.8,616.8 L1635.8,616.1 M1638.0,590.1 L1638.1,589.1 L1638.2,588.1 L1638.4,587.1 L1638.5,586.1 L1638.6,585.1 L1638.8,584.1 L1638.9,583.2 L1639.0,582.2 L1639.2,581.2 L1639.3,580.2 L1639.5,579.2 L1639.6,578.2 L1639.7,577.2 L1639.9,576.2 L1640.0,575.2 L1640.2,574.2 L1640.3,573.3 L1640.4,572.3 L1640.6,571.3 L1640.7,570.3 L1640.7,570.0 M1643.6,544.4 L1643.8,543.4 L1644.0,542.4 L1644.2,541.4 L1644.4,540.4 L1644.6,539.5 L1644.8,538.5 L1645.0,537.5 L1645.2,536.5 L1645.4,535.5 L1645.5,534.5 L1645.7,533.6 L1645.8,532.6 L1645.9,531.6 L1646.1,530.6 L1646.2,529.6 L1646.4,528.6 L1646.5,527.6 L1646.6,526.6 L1646.8,525.6 L1646.9,524.6 L1646.9,524.4 M1651.1,498.7 L1651.3,497.7 L1651.5,496.7 L1651.7,495.7 L1651.9,494.8 L1652.1,493.8 L1652.3,492.8 L1652.5,491.8 L1652.7,490.9 L1652.9,489.9 L1653.2,488.9 L1653.4,487.9 L1653.6,486.9 L1653.8,486.0 L1654.0,485.0 L1654.2,484.0 L1654.4,483.0 L1654.6,482.1 L1654.8,481.1 L1655.0,480.1 L1655.3,479.1 L1655.5,478.2 M1664.3,452.0 L1664.7,451.1 L1665.1,450.2 L1665.6,449.2 L1666.0,448.3 L1666.4,447.4 L1666.8,446.5 L1667.2,445.6 L1667.6,444.7 L1668.0,443.8 L1668.4,442.9 L1668.8,442.0 L1669.3,441.1 L1669.8,440.2 L1670.3,439.4 L1670.9,438.5 L1671.4,437.7 L1672.0,436.9 L1672.6,436.1 L1673.2,435.3 L1673.7,434.5 L1674.3,433.6 L1674.9,432.8 L1675.5,432.0 L1675.8,431.6 M1699.1,413.3 L1700.1,413.5 L1701.0,413.7 L1701.9,414.0 L1702.9,414.4 L1703.8,414.7 L1704.7,415.1 L1705.6,415.5 L1706.5,415.9 L1707.4,416.3 L1708.4,416.7 L1709.3,417.1 L1710.2,417.5 L1711.1,417.9 L1712.0,418.3 L1712.9,418.7 L1713.9,419.1 L1714.8,419.5 L1715.7,420.0 L1716.6,420.4 L1717.4,420.9 L1718.2,421.4 L1719.0,421.9 L1719.5,422.5 M1734.0,447.8 L1734.6,448.7 L1735.2,449.5 L1735.8,450.3 L1736.4,451.0 L1737.0,451.8 L1737.7,452.5 L1738.4,453.3 L1739.1,454.0 L1739.7,454.7 L1740.4,455.5 L1741.1,456.2 L1741.8,456.9 L1742.5,457.7 L1743.1,458.4 L1743.8,459.1 L1744.5,459.9 L1745.2,460.6 L1745.9,461.3 L1746.5,462.1 L1747.2,462.8 L1747.9,463.6 L1748.5,464.3 L1749.2,465.1 L1749.8,465.9 L1750.0,466.2 M1762.7,491.7 L1763.0,492.6 L1763.4,493.6 L1763.7,494.5 L1764.0,495.5 L1764.4,496.4 L1764.7,497.3 L1765.0,498.3 L1765.4,499.2 L1765.7,500.2 L1766.0,501.1 L1766.4,502.1 L1766.7,503.0 L1767.1,503.9 L1767.4,504.9 L1767.7,505.8 L1768.1,506.8 L1768.4,507.7 L1768.7,508.7 L1769.1,509.6 L1769.4,510.5 L1769.7,511.5 L1769.9,512.4 M1776.5,538.6 L1776.8,539.6 L1777.1,540.5 L1777.5,541.5 L1777.9,542.4 L1778.2,543.3 L1778.6,544.2 L1779.0,545.2 L1779.4,546.1 L1779.8,547.0 L1780.1,547.9 L1780.5,548.9 L1780.9,549.8 L1781.3,550.7 L1781.7,551.6 L1782.0,552.6 L1782.4,553.5 L1782.8,554.4 L1783.2,555.3 L1783.6,556.3 L1784.0,557.2 L1784.4,558.1 L1784.7,558.9 M1797.4,584.9 L1797.8,585.8 L1798.2,586.8 L1798.5,587.7 L1798.9,588.6 L1799.2,589.6 L1799.5,590.5 L1799.9,591.4 L1800.2,592.4 L1800.6,593.3 L1800.9,594.3 L1801.3,595.2 L1801.6,596.1 L1801.9,597.1 L1802.3,598.0 L1802.6,599.0 L1803.0,599.9 L1803.3,600.8 L1803.7,601.8 L1804.0,602.7 L1804.4,603.6 L1804.7,604.6 L1805.0,605.3 M1820.2,617.9 L1820.6,617.0 L1821.0,616.0 L1821.3,615.1 L1821.7,614.2 L1822.1,613.3 L1822.5,612.3 L1822.8,611.4 L1823.2,610.5 L1823.6,609.6 L1824.0,608.6 L1824.3,607.7 L1824.7,606.8 L1825.1,605.8 L1825.4,604.9 L1825.8,604.0 L1826.1,603.0 L1826.5,602.1 L1826.8,601.2 L1827.1,600.3 M1835.7,576.9 L1836.3,576.1 L1836.9,575.4 L1837.6,574.8 L1838.4,574.1 L1839.2,573.6 L1840.0,573.0 L1840.8,572.4 L1841.6,571.8 L1842.5,571.3 L1843.3,570.7 L1844.1,570.1 L1844.9,569.6 L1845.7,569.0 L1846.6,568.4 L1847.4,567.9 L1848.2,567.3 L1849.0,566.7 L1849.9,566.2 L1850.7,565.6 L1851.5,565.1 L1852.3,564.7 L1853.1,564.4 L1853.9,564.2 L1854.2,564.2 M1878.8,565.9 L1879.8,565.6 L1880.7,565.4 L1881.7,565.2 L1882.7,564.9 L1883.7,564.7 L1884.6,564.5 L1885.6,564.2 L1886.6,564.0 L1887.5,563.8 L1888.5,563.6 L1889.5,563.3 L1890.5,563.1 L1891.4,562.9 L1892.4,562.7 L1893.4,562.4 L1894.4,562.2 L1895.3,562.0 L1896.3,561.8 L1897.3,561.6 L1898.3,561.5 L1898.8,561.4 M1923.3,572.5 L1923.8,573.4 L1924.3,574.2 L1924.7,575.1 L1925.1,576.0 L1925.6,576.9 L1926.0,577.8 L1926.4,578.8 L1926.8,579.7 L1927.2,580.6 L1927.6,581.5 L1928.0,582.4 L1928.4,583.3 L1928.8,584.2 L1929.2,585.2 L1929.6,586.1 L1930.0,587.0 L1930.4,587.9 L1930.7,588.8 L1931.1,589.8 L1931.5,590.7 L1931.9,591.6 L1932.2,592.5 M1944.4,617.9 L1944.8,618.8 L1945.2,619.7 L1945.7,620.6 L1946.1,621.5 L1946.5,622.4 L1946.8,623.3 L1947.2,624.3 L1947.5,625.2 L1947.9,626.1 L1948.2,627.1 L1948.5,628.0 L1948.9,629.0 L1949.2,629.9 L1949.6,630.8 L1949.9,631.8 L1950.2,632.7 L1950.6,633.7 L1950.9,634.6 L1951.3,635.5 L1951.6,636.5 L1952.0,637.4 L1952.1,637.8 M1959.6,663.3 L1959.8,664.2 L1960.1,665.2 L1960.3,666.2 L1960.5,667.2 L1960.8,668.1 L1961.0,669.1 L1961.2,670.1 L1961.5,671.0 L1961.7,672.0 L1962.0,673.0 L1962.2,673.9 L1962.5,674.9 L1962.7,675.9 L1963.0,676.9 L1963.2,677.8 L1963.5,678.8 L1963.7,679.8 L1963.9,680.7 L1964.2,681.7 L1964.4,682.7 L1964.6,683.3 M1970.1,709.0 L1970.3,709.9 L1970.5,710.9 L1970.7,711.9 L1970.9,712.9 L1971.1,713.9 L1971.3,714.8 L1971.6,715.8 L1971.8,716.8 L1972.0,717.8 L1972.2,718.7 L1972.4,719.7 L1972.6,720.7 L1972.8,721.7 L1973.0,722.7 L1973.2,723.6 L1973.4,724.6 L1973.6,725.6 L1973.8,726.6 L1974.0,727.6 L1974.2,728.5 L1974.3,729.1 M1979.0,755.1 L1979.2,756.1 L1979.5,757.0 L1979.8,758.0 L1980.1,758.9 L1980.4,759.9 L1980.7,760.8 L1981.0,761.8 L1981.3,762.8 L1981.6,763.7 L1981.9,764.7 L1982.2,765.6 L1982.5,766.6 L1982.8,767.5 L1983.2,768.5 L1983.5,769.4 L1983.8,770.4 L1984.1,771.3 L1984.4,772.3 L1984.7,773.2 L1985.0,774.2 L1985.3,775.1 L1985.4,775.6 M1991.6,801.4 L1991.9,802.4 L1992.2,803.3 L1992.6,804.3 L1992.9,805.2 L1993.3,806.1 L1993.6,807.1 L1994.0,808.0 L1994.3,808.9 L1994.7,809.9 L1995.1,810.8 L1995.4,811.7 L1995.8,812.7 L1996.2,813.6 L1996.5,814.5 L1996.9,815.5 L1997.2,816.4 L1997.6,817.3 L1998.0,818.3 L1998.3,819.2 L1998.7,820.1 L1999.0,821.1 L1999.1,821.3 M2010.5,841.4 L2011.4,841.7 L2012.3,841.9 L2013.3,842.1 L2014.3,842.3 L2015.3,842.5 L2016.2,842.6 L2017.2,842.8 L2018.2,842.9 L2019.2,843.1 L2020.2,843.3 L2021.2,843.4 L2022.1,843.7 L2023.0,843.9 L2023.9,844.3 L2024.6,844.7 M2040.8,859.4 L2041.6,858.8 L2042.4,858.2 L2043.2,857.6 L2043.9,857.0 L2044.6,856.3 L2045.2,855.5 L2045.8,854.7 L2046.3,853.9 L2046.9,853.1 L2047.4,852.3 L2048.0,851.6 L2048.6,851.0 L2049.3,850.6 L2050.1,850.3 L2051.0,850.1 L2051.9,850.1 L2052.8,850.2 L2053.8,850.3 L2054.8,850.5 L2055.7,850.6 L2056.7,850.8 L2057.7,851.0 L2058.7,851.1 L2059.7,851.3 L2059.8,851.3" stroke-width="4.9"/>
<path d="M266.0,1115.0h0.01 M290.2,1068.2h0.01 M320.5,1021.5h0.01 M345.6,975.2h0.01 M368.3,928.8h0.01 M394.7,882.3h0.01 M431.1,839.6h0.01 M471.4,798.0h0.01 M512.5,754.1h0.01 M549.1,708.7h0.01 M581.2,664.6h0.01 M625.7,625.0h0.01 M672.2,593.7h0.01 M718.9,561.3h0.01 M765.1,537.5h0.01 M811.3,522.0h0.01 M884.5,476.3h0.01 M931.4,463.6h0.01 M975.5,425.6h0.01 M1021.9,396.7h0.01 M1067.7,382.4h0.01 M1105.3,416.1h0.01 M1125.3,462.0h0.01 M1143.5,505.2h0.01 M1164.0,513.8h0.01 M1189.3,471.1h0.01 M1210.0,427.3h0.01 M1244.1,387.6h0.01 M1268.2,343.9h0.01 M1303.3,300.6h0.01 M1349.0,274.9h0.01 M1383.7,313.2h0.01 M1402.3,358.0h0.01 M1438.6,357.6h0.01 M1486.6,308.6h0.01 M1514.7,343.9h0.01 M1522.1,390.3h0.01 M1529.4,436.7h0.01 M1534.8,483.2h0.01 M1539.5,529.6h0.01 M1543.6,576.0h0.01 M1547.4,622.4h0.01 M1551.5,668.7h0.01 M1556.7,714.9h0.01 M1561.7,761.3h0.01 M1566.7,807.8h0.01 M1572.5,854.3h0.01 M1578.9,901.2h0.01 M1593.6,882.0h0.01 M1602.1,835.4h0.01 M1614.0,789.3h0.01 M1623.3,742.4h0.01 M1628.9,696.3h0.01 M1632.9,649.9h0.01 M1636.7,602.9h0.01 M1642.2,557.1h0.01 M1648.7,511.7h0.01 M1659.0,465.1h0.01 M1686.3,419.0h0.01 M1727.2,435.4h0.01 M1757.8,478.5h0.01 M1773.3,525.6h0.01 M1792.0,571.9h0.01 M1810.7,618.3h0.01 M1830.6,588.9h0.01 M1866.1,571.3h0.01 M1911.7,561.8h0.01 M1937.9,605.3h0.01 M1957.1,650.5h0.01 M1967.6,696.0h0.01 M1976.7,742.0h0.01 M1988.9,788.6h0.01 M2003.2,833.6h0.01 M2030.9,853.5h0.01" stroke-width="6.0" stroke-linecap="round"/>
<line x1="719.5" y1="959.3" x2="868.5" y2="959.3" stroke-width="7"/>
<line x1="719.5" y1="1038.3" x2="852" y2="1038.3" stroke-width="7" stroke-dasharray="24.5 6.5 7 9"/>
</g>
<g stroke="#0c0c0c" fill="none">
<line x1="1128.0" y1="294.0" x2="1128.0" y2="381.5" stroke-width="6.4"/><polygon points="1117.0,380.5 1139.0,380.5 1128.0,394.5" fill="#0c0c0c" stroke="none"/>
<line x1="1413.4" y1="212.0" x2="1413.4" y2="299.0" stroke-width="6.4"/><polygon points="1402.4,298.0 1424.4,298.0 1413.4,312.0" fill="#0c0c0c" stroke="none"/>
<line x1="1586.4" y1="390.5" x2="1586.4" y2="476.5" stroke-width="6.4"/><polygon points="1575.4,475.5 1597.4,475.5 1586.4,489.5" fill="#0c0c0c" stroke="none"/>
<line x1="1808.9" y1="315.0" x2="1808.9" y2="401.5" stroke-width="6.4"/><polygon points="1797.9,400.5 1819.9,400.5 1808.9,414.5" fill="#0c0c0c" stroke="none"/>
</g>
<g>
<text x="335.4" y="1464.9" font-size="68" text-anchor="middle" font-weight="normal" textLength="94.4" lengthAdjust="spacingAndGlyphs">500</text>
<text x="768.3" y="1464.9" font-size="68" text-anchor="middle" font-weight="normal" textLength="125.8" lengthAdjust="spacingAndGlyphs">1000</text>
<text x="1201.2" y="1464.9" font-size="68" text-anchor="middle" font-weight="normal" textLength="125.8" lengthAdjust="spacingAndGlyphs">1500</text>
<text x="1634.1" y="1464.9" font-size="68" text-anchor="middle" font-weight="normal" textLength="125.8" lengthAdjust="spacingAndGlyphs">2000</text>
<text x="2067.0" y="1464.9" font-size="68" text-anchor="middle" font-weight="normal" textLength="125.8" lengthAdjust="spacingAndGlyphs">2500</text>
<text x="205.5" y="1391.6" font-size="68" text-anchor="end" font-weight="normal" textLength="80" lengthAdjust="spacingAndGlyphs">0.0</text>
<text x="205.5" y="1211.1" font-size="68" text-anchor="end" font-weight="normal" textLength="80" lengthAdjust="spacingAndGlyphs">0.1</text>
<text x="205.5" y="1030.6" font-size="68" text-anchor="end" font-weight="normal" textLength="80" lengthAdjust="spacingAndGlyphs">0.2</text>
<text x="205.5" y="850.1" font-size="68" text-anchor="end" font-weight="normal" textLength="80" lengthAdjust="spacingAndGlyphs">0.3</text>
<text x="205.5" y="669.6" font-size="68" text-anchor="end" font-weight="normal" textLength="80" lengthAdjust="spacingAndGlyphs">0.4</text>
<text x="205.5" y="489.1" font-size="68" text-anchor="end" font-weight="normal" textLength="80" lengthAdjust="spacingAndGlyphs">0.5</text>
<text x="205.5" y="308.6" font-size="68" text-anchor="end" font-weight="normal" textLength="80" lengthAdjust="spacingAndGlyphs">0.6</text>
<text x="205.5" y="128.1" font-size="68" text-anchor="end" font-weight="normal" textLength="80" lengthAdjust="spacingAndGlyphs">0.7</text>
<text x="1043.3" y="253.3" font-size="68" text-anchor="start" font-weight="normal" textLength="123.2" lengthAdjust="spacingAndGlyphs">1450</text>
<text x="1179.5" y="253.3" font-size="68" text-anchor="start" font-weight="normal" textLength="82.4" lengthAdjust="spacingAndGlyphs">nm</text>
<text x="1343.9" y="182.7" font-size="68" text-anchor="start" font-weight="normal" textLength="122.6" lengthAdjust="spacingAndGlyphs">1750</text>
<text x="1481.3" y="182.7" font-size="68" text-anchor="start" font-weight="normal" textLength="81.3" lengthAdjust="spacingAndGlyphs">nm</text>
<text x="1535.0" y="371.2" font-size="68" text-anchor="start" font-weight="normal" textLength="124.4" lengthAdjust="spacingAndGlyphs">1950</text>
<text x="1673.0" y="371.2" font-size="68" text-anchor="start" font-weight="normal" textLength="80.7" lengthAdjust="spacingAndGlyphs">nm</text>
<text x="1735.3" y="285.6" font-size="68" text-anchor="start" font-weight="normal" textLength="128.1" lengthAdjust="spacingAndGlyphs">2200</text>
<text x="1877.0" y="285.6" font-size="68" text-anchor="start" font-weight="normal" textLength="81.8" lengthAdjust="spacingAndGlyphs">nm</text>
<text x="896.4" y="979.6" font-size="65" text-anchor="start" font-weight="normal" textLength="129.2" lengthAdjust="spacingAndGlyphs">NTG</text>
<text x="898.1" y="1057.5" font-size="65" text-anchor="start" font-weight="normal" textLength="82.5" lengthAdjust="spacingAndGlyphs">TG</text>
<text x="1158.0" y="1573.5" font-size="64" text-anchor="middle" font-weight="bold" textLength="466" lengthAdjust="spacingAndGlyphs" class="b">Wavelength (nm)</text>
<text transform="translate(60.3,706.5) rotate(-90)" class="b" font-size="65" text-anchor="middle" font-weight="bold" textLength="318" lengthAdjust="spacingAndGlyphs">Reflectance</text>
</g>
</svg>
</body>
</html>
